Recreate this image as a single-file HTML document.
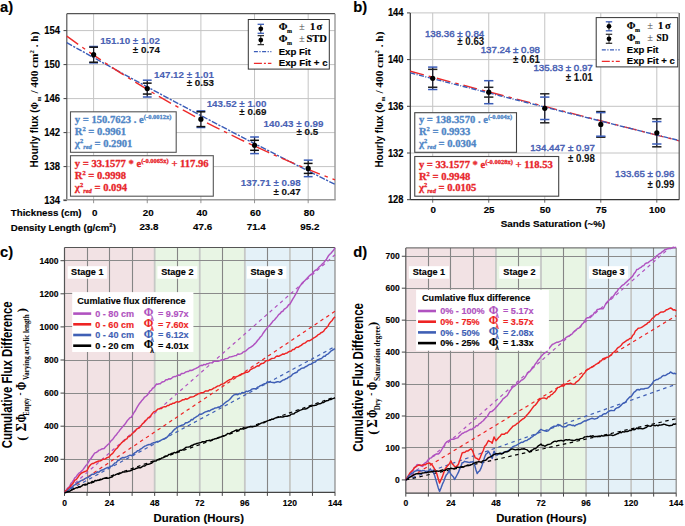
<!DOCTYPE html>
<html><head><meta charset="utf-8"><style>html,body{margin:0;padding:0;background:#fff;width:685px;height:526px;overflow:hidden}svg{display:block}</style></head>
<body><svg width="685" height="526" viewBox="0 0 685 526">
<text x="0.00" y="11.60" font-family="Liberation Sans" font-size="14.8" font-weight="bold" fill="#000" text-anchor="start"  stroke="#000" stroke-width="0.15">a)</text>
<text x="353.30" y="11.60" font-family="Liberation Sans" font-size="14.8" font-weight="bold" fill="#000" text-anchor="start"  stroke="#000" stroke-width="0.15">b)</text>
<text x="0.00" y="257.00" font-family="Liberation Sans" font-size="14.8" font-weight="bold" fill="#000" text-anchor="start"  stroke="#000" stroke-width="0.15">c)</text>
<text x="353.30" y="256.80" font-family="Liberation Sans" font-size="14.8" font-weight="bold" fill="#000" text-anchor="start"  stroke="#000" stroke-width="0.15">d)</text>
<line x1="93.62" y1="13.70" x2="93.62" y2="200.60" stroke="#c4c4c4" stroke-width="1" />
<line x1="147.26" y1="13.70" x2="147.26" y2="200.60" stroke="#c4c4c4" stroke-width="1" />
<line x1="200.90" y1="13.70" x2="200.90" y2="200.60" stroke="#c4c4c4" stroke-width="1" />
<line x1="254.54" y1="13.70" x2="254.54" y2="200.60" stroke="#c4c4c4" stroke-width="1" />
<line x1="308.18" y1="13.70" x2="308.18" y2="200.60" stroke="#c4c4c4" stroke-width="1" />
<line x1="66.80" y1="166.60" x2="335.00" y2="166.60" stroke="#c4c4c4" stroke-width="1" />
<line x1="66.80" y1="132.60" x2="335.00" y2="132.60" stroke="#c4c4c4" stroke-width="1" />
<line x1="66.80" y1="98.60" x2="335.00" y2="98.60" stroke="#c4c4c4" stroke-width="1" />
<line x1="66.80" y1="64.60" x2="335.00" y2="64.60" stroke="#c4c4c4" stroke-width="1" />
<line x1="66.80" y1="30.60" x2="335.00" y2="30.60" stroke="#c4c4c4" stroke-width="1" />
<line x1="66.80" y1="13.70" x2="335.00" y2="13.70" stroke="#555" stroke-width="1.2" />
<line x1="66.80" y1="13.70" x2="66.80" y2="199.70" stroke="#555" stroke-width="1.2" />
<line x1="335.00" y1="13.70" x2="335.00" y2="199.70" stroke="#999" stroke-width="1.4" />
<line x1="63.30" y1="199.70" x2="335.70" y2="199.70" stroke="#999" stroke-width="1.5" />
<line x1="63.50" y1="200.60" x2="66.80" y2="200.60" stroke="#404040" stroke-width="1" />
<text x="60.00" y="203.50" font-family="Liberation Sans" font-size="10" font-weight="bold" fill="#000" text-anchor="end" textLength="15.8" lengthAdjust="spacingAndGlyphs"  stroke="#000" stroke-width="0.15">134</text>
<line x1="63.50" y1="166.60" x2="66.80" y2="166.60" stroke="#404040" stroke-width="1" />
<text x="60.00" y="169.50" font-family="Liberation Sans" font-size="10" font-weight="bold" fill="#000" text-anchor="end" textLength="15.8" lengthAdjust="spacingAndGlyphs"  stroke="#000" stroke-width="0.15">138</text>
<line x1="63.50" y1="132.60" x2="66.80" y2="132.60" stroke="#404040" stroke-width="1" />
<text x="60.00" y="135.50" font-family="Liberation Sans" font-size="10" font-weight="bold" fill="#000" text-anchor="end" textLength="15.8" lengthAdjust="spacingAndGlyphs"  stroke="#000" stroke-width="0.15">142</text>
<line x1="63.50" y1="98.60" x2="66.80" y2="98.60" stroke="#404040" stroke-width="1" />
<text x="60.00" y="101.50" font-family="Liberation Sans" font-size="10" font-weight="bold" fill="#000" text-anchor="end" textLength="15.8" lengthAdjust="spacingAndGlyphs"  stroke="#000" stroke-width="0.15">146</text>
<line x1="63.50" y1="64.60" x2="66.80" y2="64.60" stroke="#404040" stroke-width="1" />
<text x="60.00" y="67.50" font-family="Liberation Sans" font-size="10" font-weight="bold" fill="#000" text-anchor="end" textLength="15.8" lengthAdjust="spacingAndGlyphs"  stroke="#000" stroke-width="0.15">150</text>
<line x1="63.50" y1="30.60" x2="66.80" y2="30.60" stroke="#404040" stroke-width="1" />
<text x="60.00" y="33.50" font-family="Liberation Sans" font-size="10" font-weight="bold" fill="#000" text-anchor="end" textLength="15.8" lengthAdjust="spacingAndGlyphs"  stroke="#000" stroke-width="0.15">154</text>
<line x1="93.62" y1="199.70" x2="93.62" y2="203.20" stroke="#888" stroke-width="0.9" />
<line x1="147.26" y1="199.70" x2="147.26" y2="203.20" stroke="#888" stroke-width="0.9" />
<line x1="200.90" y1="199.70" x2="200.90" y2="203.20" stroke="#888" stroke-width="0.9" />
<line x1="254.54" y1="199.70" x2="254.54" y2="203.20" stroke="#888" stroke-width="0.9" />
<line x1="308.18" y1="199.70" x2="308.18" y2="203.20" stroke="#888" stroke-width="0.9" />
<text x="10.80" y="215.80" font-family="Liberation Sans" font-size="9.7" font-weight="bold" fill="#000" text-anchor="start" textLength="70.7" lengthAdjust="spacingAndGlyphs"  stroke="#000" stroke-width="0.15">Thickness (cm)</text>
<text x="10.80" y="230.50" font-family="Liberation Sans" font-size="9.7" font-weight="bold" fill="#000" text-anchor="start"  stroke="#000" stroke-width="0.15">Density Length (g/cm<tspan font-size="6" dy="-4">2</tspan><tspan dy="4">)</tspan></text>
<text x="94.62" y="215.60" font-family="Liberation Sans" font-size="9.8" font-weight="bold" fill="#000" text-anchor="middle"  stroke="#000" stroke-width="0.15">0</text>
<text x="148.26" y="215.60" font-family="Liberation Sans" font-size="9.8" font-weight="bold" fill="#000" text-anchor="middle"  stroke="#000" stroke-width="0.15">20</text>
<text x="201.90" y="215.60" font-family="Liberation Sans" font-size="9.8" font-weight="bold" fill="#000" text-anchor="middle"  stroke="#000" stroke-width="0.15">40</text>
<text x="255.54" y="215.60" font-family="Liberation Sans" font-size="9.8" font-weight="bold" fill="#000" text-anchor="middle"  stroke="#000" stroke-width="0.15">60</text>
<text x="309.18" y="215.60" font-family="Liberation Sans" font-size="9.8" font-weight="bold" fill="#000" text-anchor="middle"  stroke="#000" stroke-width="0.15">80</text>
<text x="148.96" y="229.70" font-family="Liberation Sans" font-size="9.8" font-weight="bold" fill="#000" text-anchor="middle"  stroke="#000" stroke-width="0.15">23.8</text>
<text x="202.60" y="229.70" font-family="Liberation Sans" font-size="9.8" font-weight="bold" fill="#000" text-anchor="middle"  stroke="#000" stroke-width="0.15">47.6</text>
<text x="256.24" y="229.70" font-family="Liberation Sans" font-size="9.8" font-weight="bold" fill="#000" text-anchor="middle"  stroke="#000" stroke-width="0.15">71.4</text>
<text x="309.88" y="229.70" font-family="Liberation Sans" font-size="9.8" font-weight="bold" fill="#000" text-anchor="middle"  stroke="#000" stroke-width="0.15">95.2</text>
<text transform="translate(38.20,167.60) rotate(-90)" font-family="Liberation Sans" font-size="10" font-weight="bold" fill="#000" textLength="58.3" lengthAdjust="spacingAndGlyphs">Hourly flux (</text>
<text transform="translate(38.20,109.20) rotate(-90)" font-family="Liberation Serif" font-size="10.5" font-weight="bold" fill="#000" textLength="7.2" lengthAdjust="spacingAndGlyphs">Φ</text>
<text transform="translate(40.50,101.60) rotate(-90)" font-family="Liberation Serif" font-size="6.2" font-weight="bold" fill="#000" textLength="5" lengthAdjust="spacingAndGlyphs">m</text>
<text transform="translate(38.20,93.60) rotate(-90)" font-family="Liberation Serif" font-size="10.8" font-weight="bold" fill="#000" textLength="62" lengthAdjust="spacingAndGlyphs">/ 400 cm<tspan font-size="6.5" dy="-4">2</tspan><tspan dy="4"> . h)</tspan></text>
<polyline points="66.80,42.67 80.21,50.15 93.62,57.59 107.03,64.98 120.44,72.34 133.85,79.65 147.26,86.91 160.67,94.14 174.08,101.32 187.49,108.47 200.90,115.57 214.31,122.63 227.72,129.65 241.13,136.63 254.54,143.57 267.95,150.47 281.36,157.33 294.77,164.15 308.18,170.93 321.59,177.67 335.00,184.37" fill="none" stroke="#3a5cb8" stroke-width="1.4" stroke-linejoin="round" stroke-dasharray="6 1.4 2.2 1.4"/>
<polyline points="66.80,36.17 80.21,45.79 93.62,55.10 107.03,64.11 120.44,72.84 133.85,81.28 147.26,89.46 160.67,97.37 174.08,105.03 187.49,112.45 200.90,119.63 214.31,126.58 227.72,133.30 241.13,139.81 254.54,146.12 267.95,152.22 281.36,158.13 294.77,163.84 308.18,169.38 321.59,174.74 335.00,179.93" fill="none" stroke="#ee2a2a" stroke-width="1.4" stroke-linejoin="round" stroke-dasharray="14 5 3.5 5"/>
<line x1="93.62" y1="46.50" x2="93.62" y2="62.90" stroke="#1a1a2a" stroke-width="1.3" />
<line x1="89.22" y1="46.50" x2="98.02" y2="46.50" stroke="#3a5cb8" stroke-width="1.5" />
<line x1="89.22" y1="62.90" x2="98.02" y2="62.90" stroke="#3a5cb8" stroke-width="1.5" />
<line x1="89.22" y1="47.20" x2="98.02" y2="47.20" stroke="#111" stroke-width="1.5" />
<line x1="89.22" y1="62.20" x2="98.02" y2="62.20" stroke="#111" stroke-width="1.5" />
<circle cx="93.62" cy="54.70" r="2.6" fill="#000"/>
<line x1="147.26" y1="80.20" x2="147.26" y2="97.00" stroke="#1a1a2a" stroke-width="1.3" />
<line x1="142.86" y1="80.20" x2="151.66" y2="80.20" stroke="#3a5cb8" stroke-width="1.5" />
<line x1="142.86" y1="97.00" x2="151.66" y2="97.00" stroke="#3a5cb8" stroke-width="1.5" />
<line x1="142.86" y1="83.15" x2="151.66" y2="83.15" stroke="#111" stroke-width="1.5" />
<line x1="142.86" y1="94.05" x2="151.66" y2="94.05" stroke="#111" stroke-width="1.5" />
<circle cx="147.26" cy="88.60" r="2.6" fill="#000"/>
<line x1="200.90" y1="110.90" x2="200.90" y2="127.50" stroke="#1a1a2a" stroke-width="1.3" />
<line x1="196.50" y1="110.90" x2="205.30" y2="110.90" stroke="#3a5cb8" stroke-width="1.5" />
<line x1="196.50" y1="127.50" x2="205.30" y2="127.50" stroke="#3a5cb8" stroke-width="1.5" />
<line x1="196.50" y1="111.80" x2="205.30" y2="111.80" stroke="#111" stroke-width="1.5" />
<line x1="196.50" y1="126.60" x2="205.30" y2="126.60" stroke="#111" stroke-width="1.5" />
<circle cx="200.90" cy="119.20" r="2.6" fill="#000"/>
<line x1="254.54" y1="137.00" x2="254.54" y2="153.60" stroke="#1a1a2a" stroke-width="1.3" />
<line x1="250.14" y1="137.00" x2="258.94" y2="137.00" stroke="#3a5cb8" stroke-width="1.5" />
<line x1="250.14" y1="153.60" x2="258.94" y2="153.60" stroke="#3a5cb8" stroke-width="1.5" />
<line x1="250.14" y1="140.30" x2="258.94" y2="140.30" stroke="#111" stroke-width="1.5" />
<line x1="250.14" y1="150.30" x2="258.94" y2="150.30" stroke="#111" stroke-width="1.5" />
<circle cx="254.54" cy="145.30" r="2.6" fill="#000"/>
<line x1="308.18" y1="160.15" x2="308.18" y2="176.65" stroke="#1a1a2a" stroke-width="1.3" />
<line x1="303.78" y1="160.15" x2="312.58" y2="160.15" stroke="#3a5cb8" stroke-width="1.5" />
<line x1="303.78" y1="176.65" x2="312.58" y2="176.65" stroke="#3a5cb8" stroke-width="1.5" />
<line x1="303.78" y1="163.40" x2="312.58" y2="163.40" stroke="#111" stroke-width="1.5" />
<line x1="303.78" y1="173.40" x2="312.58" y2="173.40" stroke="#111" stroke-width="1.5" />
<circle cx="308.18" cy="168.40" r="2.6" fill="#000"/>
<text x="160.00" y="44.30" font-family="Liberation Sans" font-size="9.8" font-weight="bold" fill="#4a62b4" text-anchor="end"  stroke="#4a62b4" stroke-width="0.15">151.10 ± 1.02</text>
<text x="160.00" y="53.10" font-family="Liberation Sans" font-size="9.8" font-weight="bold" fill="#111" text-anchor="end"  stroke="#111" stroke-width="0.15">± 0.74</text>
<text x="213.90" y="78.10" font-family="Liberation Sans" font-size="9.8" font-weight="bold" fill="#4a62b4" text-anchor="end"  stroke="#4a62b4" stroke-width="0.15">147.12 ± 1.01</text>
<text x="213.90" y="86.10" font-family="Liberation Sans" font-size="9.8" font-weight="bold" fill="#111" text-anchor="end"  stroke="#111" stroke-width="0.15">± 0.53</text>
<text x="266.50" y="107.00" font-family="Liberation Sans" font-size="9.8" font-weight="bold" fill="#4a62b4" text-anchor="end"  stroke="#4a62b4" stroke-width="0.15">143.52 ± 1.00</text>
<text x="266.50" y="115.00" font-family="Liberation Sans" font-size="9.8" font-weight="bold" fill="#111" text-anchor="end"  stroke="#111" stroke-width="0.15">± 0.69</text>
<text x="323.40" y="126.60" font-family="Liberation Sans" font-size="9.8" font-weight="bold" fill="#4a62b4" text-anchor="end"  stroke="#4a62b4" stroke-width="0.15">140.43 ± 0.99</text>
<text x="318.10" y="135.30" font-family="Liberation Sans" font-size="9.8" font-weight="bold" fill="#111" text-anchor="end"  stroke="#111" stroke-width="0.15">± 0.5</text>
<text x="300.60" y="185.90" font-family="Liberation Sans" font-size="9.8" font-weight="bold" fill="#4a62b4" text-anchor="end"  stroke="#4a62b4" stroke-width="0.15">137.71 ± 0.98</text>
<text x="300.60" y="195.20" font-family="Liberation Sans" font-size="9.8" font-weight="bold" fill="#111" text-anchor="end"  stroke="#111" stroke-width="0.15">± 0.47</text>
<rect x="248.30" y="19.50" width="81.00" height="49.60" fill="#fff" stroke="#333" stroke-width="1" />
<line x1="260.80" y1="24.30" x2="260.80" y2="33.30" stroke="#222" stroke-width="1" />
<line x1="257.60" y1="24.30" x2="264.00" y2="24.30" stroke="#3a5cb8" stroke-width="1.3" />
<line x1="257.60" y1="33.30" x2="264.00" y2="33.30" stroke="#3a5cb8" stroke-width="1.3" />
<circle cx="260.8" cy="28.8" r="2.4" fill="#000"/>
<line x1="260.80" y1="35.60" x2="260.80" y2="44.60" stroke="#222" stroke-width="1" />
<line x1="257.60" y1="35.60" x2="264.00" y2="35.60" stroke="#333" stroke-width="1.3" />
<line x1="257.60" y1="44.60" x2="264.00" y2="44.60" stroke="#333" stroke-width="1.3" />
<circle cx="260.8" cy="40.1" r="2.4" fill="#000"/>
<text x="278.70" y="29.70" font-family="Liberation Serif" font-size="10.5" font-weight="bold" fill="#000" text-anchor="start"  stroke="#000" stroke-width="0.15">Φ</text>
<text x="286.90" y="32.70" font-family="Liberation Serif" font-size="6" font-weight="bold" fill="#000" text-anchor="start"  stroke="#000" stroke-width="0.15">m</text>
<text x="299.10" y="29.70" font-family="Liberation Serif" font-size="10.5" font-weight="normal" fill="#444" text-anchor="start" >±</text>
<text x="310.00" y="29.70" font-family="Liberation Serif" font-size="10.5" font-weight="bold" fill="#000" text-anchor="start"  stroke="#000" stroke-width="0.15">1</text>
<text x="316.60" y="29.70" font-family="Liberation Serif" font-size="10.5" font-weight="bold" fill="#000" text-anchor="start"  stroke="#000" stroke-width="0.15">σ</text>
<text x="278.70" y="41.80" font-family="Liberation Serif" font-size="10.5" font-weight="bold" fill="#000" text-anchor="start"  stroke="#000" stroke-width="0.15">Φ</text>
<text x="286.90" y="44.80" font-family="Liberation Serif" font-size="6" font-weight="bold" fill="#000" text-anchor="start"  stroke="#000" stroke-width="0.15">m</text>
<text x="299.10" y="41.80" font-family="Liberation Serif" font-size="10.5" font-weight="normal" fill="#444" text-anchor="start" >±</text>
<text x="306.40" y="41.80" font-family="Liberation Serif" font-size="10.5" font-weight="bold" fill="#000" text-anchor="start" textLength="20.5" lengthAdjust="spacingAndGlyphs"  stroke="#000" stroke-width="0.15">STD</text>
<line x1="253.90" y1="51.60" x2="271.40" y2="51.60" stroke="#3a5cb8" stroke-width="1.3" stroke-dasharray="4 1.5 1.2 1.5"/>
<line x1="253.90" y1="63.30" x2="271.40" y2="63.30" stroke="#ee2a2a" stroke-width="1.3" stroke-dasharray="8 2 2 2"/>
<text x="278.70" y="54.60" font-family="Liberation Sans" font-size="9.6" font-weight="bold" fill="#000" text-anchor="start"  stroke="#000" stroke-width="0.15">Exp Fit</text>
<text x="278.70" y="66.00" font-family="Liberation Sans" font-size="9.6" font-weight="bold" fill="#000" text-anchor="start" textLength="48.9" lengthAdjust="spacingAndGlyphs"  stroke="#000" stroke-width="0.15">Exp Fit + c</text>
<rect x="70.50" y="111.80" width="105.70" height="40.50" fill="#fff" stroke="#555" stroke-width="1.1" />
<rect x="70.50" y="155.70" width="142.80" height="40.50" fill="#fff" stroke="#555" stroke-width="1.1" />
<text x="74.8" y="123.4" font-family="Liberation Serif" font-size="10.6" font-weight="bold" fill="#4f86c6" stroke="#4f86c6" stroke-width="0.3">y = 150.7623 . e<tspan font-size="6.5" dy="-4">(-0.0012x)</tspan></text>
<text x="74.8" y="135.1" font-family="Liberation Serif" font-size="10.6" font-weight="bold" fill="#4f86c6" stroke="#4f86c6" stroke-width="0.3">R<tspan font-size="6.5" dy="-4">2</tspan><tspan dy="4"> = 0.9961</tspan></text>
<text x="74.8" y="146.8" font-family="Liberation Serif" font-size="10.6" font-weight="bold" fill="#4f86c6" stroke="#4f86c6" stroke-width="0.3"><tspan font-size="11">χ</tspan><tspan font-size="6.5" dy="-4">2</tspan><tspan font-size="6.5" dy="6" font-style="italic">red</tspan><tspan dy="-2"> = 0.2901</tspan></text>
<text x="74.8" y="167.1" font-family="Liberation Serif" font-size="10.6" font-weight="bold" fill="#e8262b" stroke="#e8262b" stroke-width="0.3">y = 33.1577 * e<tspan font-size="6.5" dy="-4">(-0.0065x)</tspan><tspan dy="4"> + 117.96</tspan></text>
<text x="74.8" y="178.79999999999998" font-family="Liberation Serif" font-size="10.6" font-weight="bold" fill="#e8262b" stroke="#e8262b" stroke-width="0.3">R<tspan font-size="6.5" dy="-4">2</tspan><tspan dy="4"> = 0.9998</tspan></text>
<text x="74.8" y="190.5" font-family="Liberation Serif" font-size="10.6" font-weight="bold" fill="#e8262b" stroke="#e8262b" stroke-width="0.3"><tspan font-size="11">χ</tspan><tspan font-size="6.5" dy="-4">2</tspan><tspan font-size="6.5" dy="6" font-style="italic">red</tspan><tspan dy="-2"> = 0.094</tspan></text>
<line x1="432.71" y1="12.90" x2="432.71" y2="199.70" stroke="#c4c4c4" stroke-width="1" />
<line x1="488.74" y1="12.90" x2="488.74" y2="199.70" stroke="#c4c4c4" stroke-width="1" />
<line x1="544.76" y1="12.90" x2="544.76" y2="199.70" stroke="#c4c4c4" stroke-width="1" />
<line x1="600.79" y1="12.90" x2="600.79" y2="199.70" stroke="#c4c4c4" stroke-width="1" />
<line x1="656.81" y1="12.90" x2="656.81" y2="199.70" stroke="#c4c4c4" stroke-width="1" />
<line x1="410.30" y1="153.00" x2="679.20" y2="153.00" stroke="#c4c4c4" stroke-width="1" />
<line x1="410.30" y1="106.30" x2="679.20" y2="106.30" stroke="#c4c4c4" stroke-width="1" />
<line x1="410.30" y1="59.60" x2="679.20" y2="59.60" stroke="#c4c4c4" stroke-width="1" />
<line x1="410.30" y1="12.90" x2="679.20" y2="12.90" stroke="#c4c4c4" stroke-width="1" />
<line x1="410.30" y1="12.90" x2="410.30" y2="199.70" stroke="#333" stroke-width="1.2" />
<line x1="679.20" y1="12.90" x2="679.20" y2="199.70" stroke="#555" stroke-width="1.2" />
<line x1="410.30" y1="199.70" x2="679.20" y2="199.70" stroke="#333" stroke-width="1.2" />
<line x1="407.00" y1="199.70" x2="410.30" y2="199.70" stroke="#404040" stroke-width="1" />
<text x="403.50" y="203.20" font-family="Liberation Sans" font-size="10" font-weight="bold" fill="#000" text-anchor="end" textLength="15.6" lengthAdjust="spacingAndGlyphs"  stroke="#000" stroke-width="0.15">128</text>
<line x1="407.00" y1="153.00" x2="410.30" y2="153.00" stroke="#404040" stroke-width="1" />
<text x="403.50" y="156.50" font-family="Liberation Sans" font-size="10" font-weight="bold" fill="#000" text-anchor="end" textLength="15.6" lengthAdjust="spacingAndGlyphs"  stroke="#000" stroke-width="0.15">132</text>
<line x1="407.00" y1="106.30" x2="410.30" y2="106.30" stroke="#404040" stroke-width="1" />
<text x="403.50" y="109.80" font-family="Liberation Sans" font-size="10" font-weight="bold" fill="#000" text-anchor="end" textLength="15.6" lengthAdjust="spacingAndGlyphs"  stroke="#000" stroke-width="0.15">136</text>
<line x1="407.00" y1="59.60" x2="410.30" y2="59.60" stroke="#404040" stroke-width="1" />
<text x="403.50" y="63.10" font-family="Liberation Sans" font-size="10" font-weight="bold" fill="#000" text-anchor="end" textLength="15.6" lengthAdjust="spacingAndGlyphs"  stroke="#000" stroke-width="0.15">140</text>
<line x1="407.00" y1="12.90" x2="410.30" y2="12.90" stroke="#404040" stroke-width="1" />
<text x="403.50" y="16.40" font-family="Liberation Sans" font-size="10" font-weight="bold" fill="#000" text-anchor="end" textLength="15.6" lengthAdjust="spacingAndGlyphs"  stroke="#000" stroke-width="0.15">144</text>
<line x1="432.71" y1="199.70" x2="432.71" y2="202.70" stroke="#404040" stroke-width="0.8" />
<text x="433.11" y="213.20" font-family="Liberation Sans" font-size="9.8" font-weight="bold" fill="#000" text-anchor="middle"  stroke="#000" stroke-width="0.15">0</text>
<line x1="488.74" y1="199.70" x2="488.74" y2="202.70" stroke="#404040" stroke-width="0.8" />
<text x="489.13" y="213.20" font-family="Liberation Sans" font-size="9.8" font-weight="bold" fill="#000" text-anchor="middle"  stroke="#000" stroke-width="0.15">25</text>
<line x1="544.76" y1="199.70" x2="544.76" y2="202.70" stroke="#404040" stroke-width="0.8" />
<text x="545.16" y="213.20" font-family="Liberation Sans" font-size="9.8" font-weight="bold" fill="#000" text-anchor="middle"  stroke="#000" stroke-width="0.15">50</text>
<line x1="600.79" y1="199.70" x2="600.79" y2="202.70" stroke="#404040" stroke-width="0.8" />
<text x="601.19" y="213.20" font-family="Liberation Sans" font-size="9.8" font-weight="bold" fill="#000" text-anchor="middle"  stroke="#000" stroke-width="0.15">75</text>
<line x1="656.81" y1="199.70" x2="656.81" y2="202.70" stroke="#404040" stroke-width="0.8" />
<text x="657.21" y="213.20" font-family="Liberation Sans" font-size="9.8" font-weight="bold" fill="#000" text-anchor="middle"  stroke="#000" stroke-width="0.15">100</text>
<text x="553.00" y="227.00" font-family="Liberation Sans" font-size="9.85" font-weight="bold" fill="#000" text-anchor="middle"  stroke="#000" stroke-width="0.15">Sands Saturation (~%)</text>
<text transform="translate(382.50,167.60) rotate(-90)" font-family="Liberation Sans" font-size="10" font-weight="bold" fill="#000" textLength="58.3" lengthAdjust="spacingAndGlyphs">Hourly flux (</text>
<text transform="translate(382.50,109.20) rotate(-90)" font-family="Liberation Serif" font-size="10.5" font-weight="bold" fill="#000" textLength="7.2" lengthAdjust="spacingAndGlyphs">Φ</text>
<text transform="translate(384.80,101.60) rotate(-90)" font-family="Liberation Serif" font-size="6.2" font-weight="bold" fill="#000" textLength="5" lengthAdjust="spacingAndGlyphs">m</text>
<text transform="translate(382.50,93.60) rotate(-90)" font-family="Liberation Serif" font-size="10.8" font-weight="bold" fill="#000" textLength="62" lengthAdjust="spacingAndGlyphs">/ 400 cm<tspan font-size="6.5" dy="-4">2</tspan><tspan dy="4"> . h)</tspan></text>
<polyline points="410.30,71.27 432.71,77.19 455.12,83.08 477.53,88.95 499.94,94.80 522.35,100.62 544.76,106.43 567.17,112.21 589.58,117.98 611.99,123.72 634.40,129.44 656.81,135.14 679.22,140.82" fill="none" stroke="#ee2a2a" stroke-width="1.4" stroke-linejoin="round" stroke-dasharray="14 5 3.5 5"/>
<polyline points="410.30,72.91 432.71,78.65 455.12,84.38 477.53,90.08 499.94,95.77 522.35,101.43 544.76,107.08 567.17,112.70 589.58,118.30 611.99,123.89 634.40,129.45 656.81,135.00 679.22,140.52" fill="none" stroke="#3a5cb8" stroke-width="1.4" stroke-linejoin="round" stroke-dasharray="5 1.5 1 1.5"/>
<line x1="432.71" y1="67.10" x2="432.71" y2="89.50" stroke="#1a1a2a" stroke-width="1.3" />
<line x1="428.06" y1="67.10" x2="437.36" y2="67.10" stroke="#3a5cb8" stroke-width="1.5" />
<line x1="428.06" y1="89.50" x2="437.36" y2="89.50" stroke="#3a5cb8" stroke-width="1.5" />
<line x1="428.06" y1="69.35" x2="437.36" y2="69.35" stroke="#222" stroke-width="1.5" />
<line x1="428.06" y1="87.25" x2="437.36" y2="87.25" stroke="#222" stroke-width="1.5" />
<circle cx="432.71" cy="78.30" r="2.6" fill="#000"/>
<line x1="488.74" y1="80.70" x2="488.74" y2="103.70" stroke="#1a1a2a" stroke-width="1.3" />
<line x1="484.09" y1="80.70" x2="493.38" y2="80.70" stroke="#3a5cb8" stroke-width="1.5" />
<line x1="484.09" y1="103.70" x2="493.38" y2="103.70" stroke="#3a5cb8" stroke-width="1.5" />
<line x1="484.09" y1="87.30" x2="493.38" y2="87.30" stroke="#222" stroke-width="1.5" />
<line x1="484.09" y1="97.10" x2="493.38" y2="97.10" stroke="#222" stroke-width="1.5" />
<circle cx="488.74" cy="92.20" r="2.6" fill="#000"/>
<line x1="544.76" y1="93.80" x2="544.76" y2="122.80" stroke="#1a1a2a" stroke-width="1.3" />
<line x1="540.11" y1="93.80" x2="549.41" y2="93.80" stroke="#222" stroke-width="1.5" />
<line x1="540.11" y1="122.80" x2="549.41" y2="122.80" stroke="#222" stroke-width="1.5" />
<line x1="540.11" y1="97.10" x2="549.41" y2="97.10" stroke="#3a5cb8" stroke-width="1.5" />
<line x1="540.11" y1="119.50" x2="549.41" y2="119.50" stroke="#3a5cb8" stroke-width="1.5" />
<circle cx="544.76" cy="108.30" r="2.6" fill="#000"/>
<line x1="600.79" y1="111.60" x2="600.79" y2="137.20" stroke="#1a1a2a" stroke-width="1.3" />
<line x1="596.14" y1="111.60" x2="605.44" y2="111.60" stroke="#222" stroke-width="1.5" />
<line x1="596.14" y1="137.20" x2="605.44" y2="137.20" stroke="#222" stroke-width="1.5" />
<line x1="596.14" y1="112.60" x2="605.44" y2="112.60" stroke="#3a5cb8" stroke-width="1.5" />
<line x1="596.14" y1="136.20" x2="605.44" y2="136.20" stroke="#3a5cb8" stroke-width="1.5" />
<circle cx="600.79" cy="124.40" r="2.6" fill="#000"/>
<line x1="656.81" y1="118.80" x2="656.81" y2="146.80" stroke="#1a1a2a" stroke-width="1.3" />
<line x1="652.16" y1="118.80" x2="661.46" y2="118.80" stroke="#222" stroke-width="1.5" />
<line x1="652.16" y1="146.80" x2="661.46" y2="146.80" stroke="#222" stroke-width="1.5" />
<line x1="652.16" y1="121.60" x2="661.46" y2="121.60" stroke="#3a5cb8" stroke-width="1.5" />
<line x1="652.16" y1="144.00" x2="661.46" y2="144.00" stroke="#3a5cb8" stroke-width="1.5" />
<circle cx="656.81" cy="132.80" r="2.6" fill="#000"/>
<text x="484.20" y="36.90" font-family="Liberation Sans" font-size="9.8" font-weight="normal" fill="#4a62b4" text-anchor="end" textLength="59.3" lengthAdjust="spacingAndGlyphs" stroke="#4a62b4" stroke-width="0.45">138.36 ± 0.84</text>
<text x="484.20" y="44.80" font-family="Liberation Sans" font-size="10" font-weight="bold" fill="#111" text-anchor="end" textLength="26.9" lengthAdjust="spacingAndGlyphs" stroke="#111" stroke-width="0.05">± 0.63</text>
<text x="540.00" y="53.30" font-family="Liberation Sans" font-size="9.8" font-weight="normal" fill="#4a62b4" text-anchor="end" textLength="59.3" lengthAdjust="spacingAndGlyphs" stroke="#4a62b4" stroke-width="0.45">137.24 ± 0.98</text>
<text x="540.00" y="62.70" font-family="Liberation Sans" font-size="10" font-weight="bold" fill="#111" text-anchor="end" textLength="26.9" lengthAdjust="spacingAndGlyphs" stroke="#111" stroke-width="0.05">± 0.61</text>
<text x="592.70" y="70.80" font-family="Liberation Sans" font-size="9.8" font-weight="normal" fill="#4a62b4" text-anchor="end" textLength="59.3" lengthAdjust="spacingAndGlyphs" stroke="#4a62b4" stroke-width="0.45">135.83 ± 0.97</text>
<text x="592.70" y="81.30" font-family="Liberation Sans" font-size="10" font-weight="bold" fill="#111" text-anchor="end" textLength="26.9" lengthAdjust="spacingAndGlyphs" stroke="#111" stroke-width="0.05">± 1.01</text>
<text x="594.90" y="151.00" font-family="Liberation Sans" font-size="9.8" font-weight="normal" fill="#4a62b4" text-anchor="end" textLength="64.7" lengthAdjust="spacingAndGlyphs" stroke="#4a62b4" stroke-width="0.45">134.447 ± 0.97</text>
<text x="594.90" y="162.10" font-family="Liberation Sans" font-size="10" font-weight="bold" fill="#111" text-anchor="end" textLength="26.9" lengthAdjust="spacingAndGlyphs" stroke="#111" stroke-width="0.05">± 0.98</text>
<text x="674.40" y="177.00" font-family="Liberation Sans" font-size="9.8" font-weight="normal" fill="#4a62b4" text-anchor="end" textLength="59.3" lengthAdjust="spacingAndGlyphs" stroke="#4a62b4" stroke-width="0.45">133.65 ± 0.96</text>
<text x="674.40" y="187.80" font-family="Liberation Sans" font-size="10" font-weight="bold" fill="#111" text-anchor="end" textLength="26.9" lengthAdjust="spacingAndGlyphs" stroke="#111" stroke-width="0.05">± 0.99</text>
<rect x="596.20" y="17.60" width="81.50" height="49.30" fill="#fff" stroke="#333" stroke-width="1" />
<line x1="609.00" y1="21.80" x2="609.00" y2="30.80" stroke="#222" stroke-width="1" />
<line x1="605.80" y1="21.80" x2="612.20" y2="21.80" stroke="#3a5cb8" stroke-width="1.3" />
<line x1="605.80" y1="30.80" x2="612.20" y2="30.80" stroke="#3a5cb8" stroke-width="1.3" />
<circle cx="609" cy="26.3" r="2.4" fill="#000"/>
<line x1="609.00" y1="34.30" x2="609.00" y2="43.30" stroke="#222" stroke-width="1" />
<line x1="605.80" y1="34.30" x2="612.20" y2="34.30" stroke="#333" stroke-width="1.3" />
<line x1="605.80" y1="43.30" x2="612.20" y2="43.30" stroke="#333" stroke-width="1.3" />
<circle cx="609" cy="38.8" r="2.4" fill="#000"/>
<text x="626.80" y="28.60" font-family="Liberation Serif" font-size="10.5" font-weight="bold" fill="#000" text-anchor="start"  stroke="#000" stroke-width="0.15">Φ</text>
<text x="635.00" y="31.60" font-family="Liberation Serif" font-size="6" font-weight="bold" fill="#000" text-anchor="start"  stroke="#000" stroke-width="0.15">m</text>
<text x="647.20" y="28.60" font-family="Liberation Serif" font-size="10.5" font-weight="normal" fill="#444" text-anchor="start" >±</text>
<text x="658.10" y="28.60" font-family="Liberation Serif" font-size="10.5" font-weight="bold" fill="#000" text-anchor="start"  stroke="#000" stroke-width="0.15">1</text>
<text x="664.90" y="28.60" font-family="Liberation Serif" font-size="10.5" font-weight="bold" fill="#000" text-anchor="start"  stroke="#000" stroke-width="0.15">σ</text>
<text x="626.80" y="40.60" font-family="Liberation Serif" font-size="10.5" font-weight="bold" fill="#000" text-anchor="start"  stroke="#000" stroke-width="0.15">Φ</text>
<text x="635.00" y="43.60" font-family="Liberation Serif" font-size="6" font-weight="bold" fill="#000" text-anchor="start"  stroke="#000" stroke-width="0.15">m</text>
<text x="647.20" y="40.60" font-family="Liberation Serif" font-size="10.5" font-weight="normal" fill="#444" text-anchor="start" >±</text>
<text x="656.60" y="40.60" font-family="Liberation Serif" font-size="10.5" font-weight="bold" fill="#000" text-anchor="start" textLength="12" lengthAdjust="spacingAndGlyphs"  stroke="#000" stroke-width="0.15">SD</text>
<line x1="601.80" y1="49.80" x2="619.80" y2="49.80" stroke="#3a5cb8" stroke-width="1.3" stroke-dasharray="4 1.5 1.2 1.5"/>
<line x1="601.80" y1="61.30" x2="619.80" y2="61.30" stroke="#ee2a2a" stroke-width="1.3" stroke-dasharray="8 2 2 2"/>
<text x="626.80" y="52.60" font-family="Liberation Sans" font-size="9.5" font-weight="bold" fill="#000" text-anchor="start"  stroke="#000" stroke-width="0.15">Exp Fit</text>
<text x="626.80" y="64.20" font-family="Liberation Sans" font-size="9.6" font-weight="bold" fill="#000" text-anchor="start" textLength="48.1" lengthAdjust="spacingAndGlyphs"  stroke="#000" stroke-width="0.15">Exp Fit + c</text>
<rect x="414.75" y="112.70" width="101.75" height="39.60" fill="#fff" stroke="#444" stroke-width="1.1" />
<rect x="414.75" y="156.50" width="143.95" height="39.70" fill="#fff" stroke="#444" stroke-width="1.1" />
<text x="418.9" y="123" font-family="Liberation Serif" font-size="10.6" font-weight="bold" fill="#4f86c6" stroke="#4f86c6" stroke-width="0.3">y = 138.3570 . e<tspan font-size="6.5" dy="-4">(-0.004x)</tspan></text>
<text x="418.9" y="135" font-family="Liberation Serif" font-size="10.6" font-weight="bold" fill="#4f86c6" stroke="#4f86c6" stroke-width="0.3">R<tspan font-size="6.5" dy="-4">2</tspan><tspan dy="4"> = 0.9933</tspan></text>
<text x="418.9" y="147" font-family="Liberation Serif" font-size="10.6" font-weight="bold" fill="#4f86c6" stroke="#4f86c6" stroke-width="0.3"><tspan font-size="11">χ</tspan><tspan font-size="6.5" dy="-4">2</tspan><tspan font-size="6.5" dy="6" font-style="italic">red</tspan><tspan dy="-2"> = 0.0304</tspan></text>
<text x="418.9" y="167.6" font-family="Liberation Serif" font-size="10.6" font-weight="bold" fill="#e8262b" stroke="#e8262b" stroke-width="0.3">y = 33.1577 * e<tspan font-size="6.5" dy="-4">(-0.0028x)</tspan><tspan dy="4"> + 118.53</tspan></text>
<text x="418.9" y="179.5" font-family="Liberation Serif" font-size="10.6" font-weight="bold" fill="#e8262b" stroke="#e8262b" stroke-width="0.3">R<tspan font-size="6.5" dy="-4">2</tspan><tspan dy="4"> = 0.9948</tspan></text>
<text x="418.9" y="191.4" font-family="Liberation Serif" font-size="10.6" font-weight="bold" fill="#e8262b" stroke="#e8262b" stroke-width="0.3"><tspan font-size="11">χ</tspan><tspan font-size="6.5" dy="-4">2</tspan><tspan font-size="6.5" dy="6" font-style="italic">red</tspan><tspan dy="-2"> = 0.0105</tspan></text>
<rect x="64.50" y="247.50" width="90.17" height="244.90" fill="#f2e2e4" stroke="none" stroke-width="1" />
<rect x="154.67" y="247.50" width="90.17" height="244.90" fill="#e8f5e4" stroke="none" stroke-width="1" />
<rect x="244.83" y="247.50" width="90.17" height="244.90" fill="#e4f1f8" stroke="none" stroke-width="1" />
<line x1="87.50" y1="247.50" x2="87.50" y2="492.40" stroke="#858585" stroke-width="1.1" />
<line x1="109.50" y1="247.50" x2="109.50" y2="492.40" stroke="#858585" stroke-width="1.1" />
<line x1="132.50" y1="247.50" x2="132.50" y2="492.40" stroke="#858585" stroke-width="1.1" />
<line x1="154.67" y1="247.50" x2="154.67" y2="492.40" stroke="#c6c8c6" stroke-width="1.8" />
<line x1="177.50" y1="247.50" x2="177.50" y2="492.40" stroke="#858585" stroke-width="1.1" />
<line x1="199.75" y1="247.50" x2="199.75" y2="492.40" stroke="#c6c8c6" stroke-width="1.8" />
<line x1="222.50" y1="247.50" x2="222.50" y2="492.40" stroke="#858585" stroke-width="1.1" />
<line x1="244.83" y1="247.50" x2="244.83" y2="492.40" stroke="#c6c8c6" stroke-width="1.8" />
<line x1="267.50" y1="247.50" x2="267.50" y2="492.40" stroke="#858585" stroke-width="1.1" />
<line x1="289.92" y1="247.50" x2="289.92" y2="492.40" stroke="#c6c8c6" stroke-width="1.8" />
<line x1="312.50" y1="247.50" x2="312.50" y2="492.40" stroke="#858585" stroke-width="1.1" />
<line x1="64.50" y1="459.50" x2="335.00" y2="459.50" stroke="#8a8a8a" stroke-width="1.1" />
<line x1="64.50" y1="426.50" x2="335.00" y2="426.50" stroke="#8a8a8a" stroke-width="1.1" />
<line x1="64.50" y1="393.50" x2="335.00" y2="393.50" stroke="#8a8a8a" stroke-width="1.1" />
<line x1="64.50" y1="360.50" x2="335.00" y2="360.50" stroke="#8a8a8a" stroke-width="1.1" />
<line x1="64.50" y1="326.50" x2="335.00" y2="326.50" stroke="#8a8a8a" stroke-width="1.1" />
<line x1="64.50" y1="293.50" x2="335.00" y2="293.50" stroke="#8a8a8a" stroke-width="1.1" />
<line x1="64.50" y1="260.50" x2="335.00" y2="260.50" stroke="#8a8a8a" stroke-width="1.1" />
<line x1="64.50" y1="247.50" x2="335.00" y2="247.50" stroke="#555" stroke-width="1" />
<line x1="335.00" y1="247.50" x2="335.00" y2="492.40" stroke="#888" stroke-width="1.2" />
<line x1="64.50" y1="247.50" x2="64.50" y2="492.40" stroke="#555" stroke-width="1.2" />
<line x1="64.50" y1="492.40" x2="335.00" y2="492.40" stroke="#444" stroke-width="1.2" />
<line x1="60.50" y1="459.30" x2="64.50" y2="459.30" stroke="#444" stroke-width="1" />
<text x="58.50" y="462.30" font-family="Liberation Sans" font-size="8.5" font-weight="bold" fill="#000" text-anchor="end"  stroke="#000" stroke-width="0.15">200</text>
<line x1="60.50" y1="426.20" x2="64.50" y2="426.20" stroke="#444" stroke-width="1" />
<text x="58.50" y="429.20" font-family="Liberation Sans" font-size="8.5" font-weight="bold" fill="#000" text-anchor="end"  stroke="#000" stroke-width="0.15">400</text>
<line x1="60.50" y1="393.10" x2="64.50" y2="393.10" stroke="#444" stroke-width="1" />
<text x="58.50" y="396.10" font-family="Liberation Sans" font-size="8.5" font-weight="bold" fill="#000" text-anchor="end"  stroke="#000" stroke-width="0.15">600</text>
<line x1="60.50" y1="360.00" x2="64.50" y2="360.00" stroke="#444" stroke-width="1" />
<text x="58.50" y="363.00" font-family="Liberation Sans" font-size="8.5" font-weight="bold" fill="#000" text-anchor="end"  stroke="#000" stroke-width="0.15">800</text>
<line x1="60.50" y1="326.90" x2="64.50" y2="326.90" stroke="#444" stroke-width="1" />
<text x="58.50" y="329.90" font-family="Liberation Sans" font-size="8.5" font-weight="bold" fill="#000" text-anchor="end"  stroke="#000" stroke-width="0.15">1000</text>
<line x1="60.50" y1="293.80" x2="64.50" y2="293.80" stroke="#444" stroke-width="1" />
<text x="58.50" y="296.80" font-family="Liberation Sans" font-size="8.5" font-weight="bold" fill="#000" text-anchor="end"  stroke="#000" stroke-width="0.15">1200</text>
<line x1="60.50" y1="260.70" x2="64.50" y2="260.70" stroke="#444" stroke-width="1" />
<text x="58.50" y="263.70" font-family="Liberation Sans" font-size="8.5" font-weight="bold" fill="#000" text-anchor="end"  stroke="#000" stroke-width="0.15">1400</text>
<line x1="64.50" y1="492.40" x2="64.50" y2="495.90" stroke="#444" stroke-width="1" />
<line x1="87.04" y1="492.40" x2="87.04" y2="495.90" stroke="#444" stroke-width="1" />
<line x1="109.58" y1="492.40" x2="109.58" y2="495.90" stroke="#444" stroke-width="1" />
<line x1="132.12" y1="492.40" x2="132.12" y2="495.90" stroke="#444" stroke-width="1" />
<line x1="154.67" y1="492.40" x2="154.67" y2="495.90" stroke="#444" stroke-width="1" />
<line x1="177.21" y1="492.40" x2="177.21" y2="495.90" stroke="#444" stroke-width="1" />
<line x1="199.75" y1="492.40" x2="199.75" y2="495.90" stroke="#444" stroke-width="1" />
<line x1="222.29" y1="492.40" x2="222.29" y2="495.90" stroke="#444" stroke-width="1" />
<line x1="244.83" y1="492.40" x2="244.83" y2="495.90" stroke="#444" stroke-width="1" />
<line x1="267.38" y1="492.40" x2="267.38" y2="495.90" stroke="#444" stroke-width="1" />
<line x1="289.92" y1="492.40" x2="289.92" y2="495.90" stroke="#444" stroke-width="1" />
<line x1="312.46" y1="492.40" x2="312.46" y2="495.90" stroke="#444" stroke-width="1" />
<line x1="335.00" y1="492.40" x2="335.00" y2="495.90" stroke="#444" stroke-width="1" />
<text x="64.50" y="506.00" font-family="Liberation Sans" font-size="8.5" font-weight="bold" fill="#000" text-anchor="middle"  stroke="#000" stroke-width="0.15">0</text>
<text x="109.58" y="506.00" font-family="Liberation Sans" font-size="8.5" font-weight="bold" fill="#000" text-anchor="middle"  stroke="#000" stroke-width="0.15">24</text>
<text x="154.67" y="506.00" font-family="Liberation Sans" font-size="8.5" font-weight="bold" fill="#000" text-anchor="middle"  stroke="#000" stroke-width="0.15">48</text>
<text x="199.75" y="506.00" font-family="Liberation Sans" font-size="8.5" font-weight="bold" fill="#000" text-anchor="middle"  stroke="#000" stroke-width="0.15">72</text>
<text x="244.83" y="506.00" font-family="Liberation Sans" font-size="8.5" font-weight="bold" fill="#000" text-anchor="middle"  stroke="#000" stroke-width="0.15">96</text>
<text x="289.92" y="506.00" font-family="Liberation Sans" font-size="8.5" font-weight="bold" fill="#000" text-anchor="middle"  stroke="#000" stroke-width="0.15">120</text>
<text x="335.00" y="506.00" font-family="Liberation Sans" font-size="8.5" font-weight="bold" fill="#000" text-anchor="middle"  stroke="#000" stroke-width="0.15">144</text>
<text x="198.75" y="522.40" font-family="Liberation Sans" font-size="11.4" font-weight="bold" fill="#000" text-anchor="middle"  stroke="#000" stroke-width="0.15">Duration (Hours)</text>
<rect x="67.70" y="266.20" width="39.20" height="12.50" fill="#fff" stroke="none" stroke-width="1" />
<text x="87.30" y="275.00" font-family="Liberation Sans" font-size="9.1" font-weight="bold" fill="#000" text-anchor="middle"  stroke="#000" stroke-width="0.15">Stage 1</text>
<rect x="157.40" y="266.20" width="39.90" height="12.50" fill="#fff" stroke="none" stroke-width="1" />
<text x="177.35" y="275.00" font-family="Liberation Sans" font-size="9.1" font-weight="bold" fill="#000" text-anchor="middle"  stroke="#000" stroke-width="0.15">Stage 2</text>
<rect x="247.00" y="266.20" width="39.40" height="12.50" fill="#fff" stroke="none" stroke-width="1" />
<text x="266.70" y="275.00" font-family="Liberation Sans" font-size="9.1" font-weight="bold" fill="#000" text-anchor="middle"  stroke="#000" stroke-width="0.15">Stage 3</text>
<line x1="64.50" y1="492.40" x2="335.00" y2="254.79" stroke="#b052c0" stroke-width="1.2" stroke-dasharray="3.5 3.5"/>
<line x1="64.50" y1="492.40" x2="335.00" y2="311.28" stroke="#ee2424" stroke-width="1.2" stroke-dasharray="3.5 3.5"/>
<line x1="64.50" y1="492.40" x2="335.00" y2="346.55" stroke="#3f5fb5" stroke-width="1.2" stroke-dasharray="3.5 3.5"/>
<line x1="64.50" y1="492.40" x2="335.00" y2="396.83" stroke="#000" stroke-width="1.2" stroke-dasharray="3.5 3.5"/>
<polyline points="64.50,492.40 65.77,491.01 67.04,488.80 68.30,487.60 69.57,486.50 70.89,483.60 72.20,482.14 73.52,480.10 74.83,477.84 76.19,476.83 77.56,474.65 78.92,473.16 80.28,472.36 81.63,470.94 82.98,469.70 84.34,467.75 85.69,465.84 87.04,464.38 88.36,462.34 89.67,459.92 90.99,458.51 92.30,456.49 93.62,454.53 94.93,452.90 96.25,452.45 97.56,451.63 98.88,450.29 100.19,449.92 101.51,449.05 102.82,448.80 104.14,448.56 105.40,447.00 106.67,445.81 107.94,444.54 109.21,443.44 110.62,441.29 112.03,439.89 113.43,438.47 114.84,436.32 116.16,435.07 117.47,433.11 118.79,431.61 120.10,429.64 121.56,428.08 123.01,426.36 124.47,424.81 125.93,422.75 127.28,420.63 128.63,419.14 129.98,417.61 131.34,417.31 132.69,414.88 134.00,412.48 135.32,410.79 136.63,408.09 137.95,405.85 139.26,403.84 140.58,402.27 141.92,400.39 143.27,398.99 144.62,397.01 145.96,396.26 147.31,395.13 148.66,393.24 149.97,391.16 151.29,390.27 152.60,388.23 153.92,387.57 155.23,385.73 156.55,384.00 157.80,384.32 159.05,383.66 160.30,383.71 161.71,382.29 163.12,381.78 164.53,381.33 165.94,379.76 167.35,379.82 168.76,378.74 170.16,378.99 171.57,378.34 172.98,377.04 174.39,376.59 175.80,376.52 177.21,375.52 178.62,375.06 180.03,375.24 181.43,373.59 182.84,373.59 184.25,373.10 185.66,372.00 187.07,371.57 188.48,371.46 189.89,370.31 191.30,370.53 192.71,370.05 194.11,369.17 195.52,368.56 196.93,367.82 198.34,367.14 199.75,365.95 201.16,365.28 202.57,365.54 203.98,364.40 205.39,364.89 206.79,363.73 208.20,363.84 209.61,362.85 211.02,362.87 212.43,362.77 213.84,361.35 215.25,361.29 216.66,361.19 218.07,361.39 219.47,360.92 220.88,360.27 222.29,359.61 223.70,359.77 225.11,358.80 226.52,358.63 227.93,358.31 229.34,357.07 230.74,356.86 232.15,356.55 233.56,356.16 234.97,355.65 236.38,355.42 237.79,353.94 239.20,354.30 240.61,353.87 242.02,353.28 243.42,351.86 244.83,351.52 246.24,350.56 247.65,349.23 249.06,347.99 250.47,347.41 251.88,346.36 253.29,345.32 254.70,343.87 256.10,342.47 257.51,340.54 258.92,339.02 260.33,337.04 261.74,335.74 263.15,333.22 264.56,331.24 265.97,329.41 267.38,327.60 268.78,326.21 270.19,324.82 271.60,323.04 273.01,321.01 274.42,320.01 275.83,318.32 277.24,316.62 278.65,314.58 280.05,313.72 281.46,311.71 282.87,311.25 284.28,309.12 285.69,308.27 287.10,307.20 288.51,305.00 289.92,304.18 291.33,301.59 292.73,299.04 294.14,296.83 295.55,294.34 296.96,291.88 298.37,288.91 299.78,286.41 301.19,284.52 302.60,282.54 304.01,281.42 305.41,279.95 306.82,278.54 308.23,276.99 309.64,275.58 311.05,274.43 312.46,273.57 313.87,271.53 315.28,270.27 316.68,269.81 318.09,268.12 319.50,266.58 320.91,265.49 322.32,263.85 323.73,262.69 325.14,260.72 326.55,259.18 327.96,256.54 329.36,254.66 330.77,253.52 332.18,251.82 333.59,250.18 335.00,247.96" fill="none" stroke="#b052c0" stroke-width="1.45" stroke-linejoin="round" />
<polyline points="64.50,492.40 65.77,490.70 67.04,490.25 68.30,488.29 69.57,487.51 70.89,485.37 72.20,484.31 73.52,482.48 74.83,480.12 76.18,479.61 77.54,477.88 78.89,475.77 80.24,474.34 81.59,472.97 82.96,472.34 84.32,471.79 85.68,471.28 87.04,470.58 88.29,467.99 89.55,465.95 90.80,464.50 92.16,463.59 93.52,463.42 94.88,462.60 96.25,462.02 97.56,461.51 98.88,461.04 100.19,460.92 101.51,460.25 102.82,459.32 104.14,459.32 105.45,458.86 106.77,457.75 107.99,457.34 109.21,456.94 110.62,454.98 112.03,453.95 113.43,452.45 114.84,450.40 116.16,448.81 117.47,447.87 118.79,445.94 120.10,444.58 121.46,442.82 122.83,441.69 124.19,440.98 125.55,439.34 126.87,438.84 128.18,436.54 129.50,436.41 130.81,435.18 132.12,433.80 133.60,432.49 135.07,431.22 136.54,429.24 138.01,428.33 139.48,427.72 140.95,425.88 142.36,423.86 143.77,422.72 145.18,420.73 146.59,419.90 148.00,417.95 149.41,417.18 150.91,415.46 152.41,413.36 153.73,411.87 155.04,411.30 156.36,410.65 157.55,409.30 158.74,408.92 159.93,408.52 161.43,408.45 162.93,407.12 164.43,406.66 165.94,406.75 167.35,405.53 168.76,405.53 170.16,404.21 171.57,404.17 172.98,403.20 174.39,403.17 175.80,402.18 177.21,401.57 178.62,402.08 180.03,401.40 181.43,400.69 182.84,399.68 184.25,399.74 185.66,398.71 187.07,399.23 188.48,398.39 189.89,397.31 191.30,397.04 192.71,396.88 194.11,396.34 195.52,395.19 196.93,394.72 198.34,393.76 199.75,393.55 201.16,392.74 202.57,392.84 203.98,392.05 205.39,391.00 206.79,390.85 208.20,390.97 209.61,389.66 211.02,389.74 212.43,389.17 213.84,387.96 215.25,387.58 216.66,386.68 218.07,385.87 219.47,385.73 220.88,384.55 222.29,384.09 223.70,383.60 225.11,382.70 226.52,381.54 227.93,380.59 229.34,379.83 230.74,379.54 232.15,378.71 233.56,376.73 234.97,376.96 236.38,376.72 237.79,376.15 239.20,375.51 240.61,375.05 242.02,374.03 243.42,373.50 244.83,372.76 246.24,372.33 247.65,372.26 249.06,371.34 250.47,369.53 251.88,369.00 253.29,368.03 254.70,367.78 256.10,366.58 257.51,365.82 258.92,365.92 260.33,364.23 261.74,363.51 263.15,363.39 264.56,362.35 265.97,360.84 267.38,360.58 268.78,360.44 270.19,359.40 271.60,358.53 273.01,358.38 274.42,358.14 275.83,356.63 277.24,356.00 278.65,356.33 280.05,355.53 281.46,354.90 282.87,353.93 284.28,354.18 285.69,353.24 287.10,352.94 288.51,351.90 289.92,351.26 291.33,350.96 292.73,349.38 294.14,349.50 295.55,347.96 296.96,347.21 298.37,347.18 299.78,346.15 301.19,345.36 302.60,344.13 304.01,343.25 305.41,342.83 306.82,341.42 308.23,340.67 309.64,340.69 311.05,339.84 312.46,338.98 313.87,337.79 315.28,337.05 316.68,336.16 318.09,334.69 319.50,334.18 320.91,332.70 322.32,332.25 323.73,331.20 325.14,328.96 326.55,327.83 327.96,326.12 329.36,323.53 330.77,321.86 332.18,320.44 333.59,318.14 335.00,316.64" fill="none" stroke="#ee2424" stroke-width="1.45" stroke-linejoin="round" />
<polyline points="64.50,492.40 65.77,492.24 67.04,491.33 68.30,490.22 69.57,489.44 70.89,487.65 72.20,487.56 73.52,485.43 74.83,484.93 76.18,483.80 77.54,482.44 78.89,482.06 80.24,481.06 81.59,480.34 82.96,479.86 84.32,479.16 85.68,478.24 87.04,477.68 88.36,477.20 89.67,476.47 90.99,475.11 92.30,474.16 93.62,474.37 94.93,473.43 96.25,472.80 97.56,471.83 98.88,472.21 100.19,470.95 101.51,470.24 103.05,469.78 104.59,468.92 106.13,468.17 107.67,467.49 109.21,467.37 110.62,466.17 112.03,466.00 113.43,464.64 114.84,462.90 116.16,462.83 117.47,460.81 118.79,460.38 120.10,459.18 121.46,458.06 122.83,457.49 124.19,457.72 125.55,457.12 127.05,456.64 128.56,455.84 130.06,455.13 131.56,455.69 133.04,454.37 134.52,452.89 136.00,452.29 137.48,450.71 138.96,450.44 140.44,449.07 141.92,448.32 143.40,447.03 144.80,446.19 146.21,445.60 147.62,444.95 149.03,444.57 150.44,444.60 151.85,443.37 153.26,442.80 154.67,442.78 156.08,442.00 157.48,441.44 158.89,441.46 160.30,440.74 161.71,439.93 163.12,439.22 164.53,438.95 165.94,438.12 167.35,436.91 168.76,435.32 170.16,433.56 171.57,432.90 172.98,430.99 174.39,429.46 175.80,428.55 177.21,427.20 178.62,426.50 180.03,425.98 181.43,425.28 182.84,425.03 184.25,424.31 185.66,422.75 187.07,422.77 188.48,422.02 189.89,421.35 191.30,419.54 192.71,419.71 194.11,418.08 195.52,417.38 196.93,416.28 198.34,415.52 199.75,414.10 201.16,414.24 202.57,413.54 203.98,412.58 205.39,411.84 206.79,411.50 208.20,410.82 209.61,411.01 211.02,409.84 212.43,409.29 213.84,408.72 215.25,407.98 216.66,407.85 218.07,407.03 219.47,407.18 220.88,406.02 222.29,405.38 223.70,403.99 225.11,402.76 226.52,401.68 227.93,400.91 229.34,399.77 230.74,398.18 232.15,396.51 233.56,395.16 234.97,394.58 236.38,394.20 237.79,394.81 239.20,393.48 240.61,393.92 242.02,392.56 243.42,392.79 244.83,392.40 246.24,391.17 247.65,391.68 249.06,390.77 250.47,390.35 251.88,389.10 253.29,388.79 254.70,388.63 256.10,388.73 257.51,387.17 258.92,386.79 260.33,385.63 261.74,385.20 263.15,384.36 264.56,383.66 265.97,383.54 267.38,381.76 268.78,382.24 270.19,381.92 271.60,382.39 273.01,382.43 274.42,382.76 275.83,382.18 277.24,381.78 278.65,381.84 280.05,382.18 281.46,381.06 282.87,380.17 284.28,379.81 285.69,378.83 287.10,378.57 288.51,377.12 289.92,376.71 291.33,375.86 292.73,374.07 294.14,373.44 295.55,372.73 296.96,372.23 298.37,370.20 299.78,369.80 301.19,368.49 302.60,368.08 304.01,367.91 305.41,366.70 306.82,366.27 308.23,365.16 309.64,364.35 311.05,364.17 312.46,363.11 313.87,362.33 315.28,362.15 316.68,360.33 318.09,359.65 319.50,359.08 320.91,358.81 322.32,357.78 323.73,356.29 325.14,356.17 326.55,354.58 327.96,354.08 329.36,352.65 330.77,351.23 332.18,350.45 333.59,349.37 335.00,348.75" fill="none" stroke="#3f5fb5" stroke-width="1.45" stroke-linejoin="round" />
<polyline points="64.50,492.40 65.77,492.73 67.04,491.93 68.30,491.56 69.57,491.35 70.89,490.47 72.20,489.72 73.52,488.70 74.83,488.43 76.18,487.84 77.54,487.75 78.89,486.66 80.24,486.73 81.59,486.12 82.96,484.91 84.32,484.54 85.68,484.20 87.04,484.44 88.36,483.05 89.67,483.19 90.99,482.63 92.30,481.37 93.62,481.91 94.93,480.57 96.25,480.83 97.56,480.19 98.88,480.25 100.19,479.28 101.51,479.62 103.05,478.58 104.59,478.38 106.13,478.27 107.67,478.17 109.21,477.96 110.62,477.34 112.03,477.06 113.43,475.42 114.84,475.08 116.16,474.33 117.47,473.84 118.79,474.19 120.10,473.39 121.46,472.86 122.83,471.83 124.19,472.14 125.55,471.89 127.05,471.53 128.56,471.07 130.06,470.95 131.56,470.28 133.04,469.37 134.52,469.37 136.00,468.47 137.48,467.99 138.96,467.60 140.44,467.81 141.92,466.80 143.40,465.93 144.80,466.04 146.21,464.78 147.62,464.26 149.03,464.19 150.44,463.57 151.85,462.97 153.26,461.68 154.67,460.98 156.08,461.07 157.48,459.72 158.89,459.78 160.30,459.17 161.71,458.02 163.12,457.73 164.53,456.50 165.94,455.95 167.35,456.00 168.76,454.58 170.16,454.35 171.57,453.45 172.98,453.30 174.39,452.38 175.80,452.91 177.21,451.74 178.62,451.16 180.03,450.30 181.43,450.30 182.84,449.63 184.25,448.96 185.66,447.47 187.07,447.15 188.48,446.96 189.89,446.63 191.30,445.55 192.71,445.33 194.11,444.27 195.52,443.98 196.93,443.47 198.34,443.14 199.75,442.79 201.16,442.38 202.57,441.77 203.98,441.77 205.39,441.69 206.79,440.61 208.20,440.61 209.61,440.21 211.02,440.56 212.43,439.47 213.84,439.28 215.25,438.66 216.66,438.51 218.07,437.61 219.47,437.22 220.88,437.09 222.29,436.21 223.70,435.79 225.11,435.42 226.52,434.56 227.93,433.39 229.34,433.84 230.74,432.79 232.15,431.92 233.56,431.37 234.97,430.57 236.38,429.97 237.79,430.24 239.20,429.95 240.61,428.72 242.02,429.08 243.42,427.69 244.83,427.91 246.24,428.00 247.65,427.44 249.06,426.87 250.47,426.31 251.88,426.93 253.29,426.54 254.70,426.18 256.10,425.95 257.51,425.37 258.92,424.35 260.33,423.59 261.74,422.89 263.15,422.82 264.56,422.49 265.97,421.55 267.38,420.82 268.78,420.39 270.19,420.09 271.60,419.29 273.01,419.34 274.42,418.39 275.83,417.93 277.24,417.49 278.65,417.37 280.05,416.81 281.46,416.95 282.87,416.94 284.28,416.54 285.69,416.17 287.10,416.23 288.51,415.77 289.92,415.45 291.33,414.10 292.73,413.94 294.14,413.84 295.55,412.37 296.96,411.99 298.37,411.13 299.78,410.26 301.19,409.82 302.60,409.33 304.01,408.91 305.41,408.94 306.82,408.53 308.23,407.55 309.64,406.60 311.05,406.40 312.46,405.54 313.87,405.65 315.28,405.20 316.68,404.93 318.09,404.01 319.50,403.75 320.91,403.47 322.32,402.60 323.73,402.43 325.14,401.38 326.55,400.78 327.96,400.64 329.36,399.60 330.77,399.51 332.18,398.92 333.59,398.39 335.00,397.73" fill="none" stroke="#000" stroke-width="1.45" stroke-linejoin="round" />
<rect x="72.20" y="292.10" width="121.20" height="59.90" fill="#fff" stroke="none" stroke-width="1" />
<text x="77.30" y="304.00" font-family="Liberation Sans" font-size="9.1" font-weight="bold" fill="#000" text-anchor="start" textLength="108.3" lengthAdjust="spacingAndGlyphs"  stroke="#000" stroke-width="0.15">Cumlative flux difference</text>
<line x1="73.20" y1="313.60" x2="91.20" y2="313.60" stroke="#b052c0" stroke-width="2.6" />
<text x="95.20" y="316.80" font-family="Liberation Sans" font-size="9.1" font-weight="bold" fill="#b052c0" text-anchor="start"  stroke="#b052c0" stroke-width="0.15">0 - 80 cm</text>
<text x="143.70" y="316.20" font-family="Liberation Serif" font-size="11.5" font-weight="bold" fill="#b052c0" text-anchor="start"  stroke="#b052c0" stroke-width="0.15">Φ</text>
<text x="150.30" y="320.60" font-family="Liberation Sans" font-size="6.5" font-weight="bold" fill="#b052c0" text-anchor="start"  stroke="#b052c0" stroke-width="0.15">λ</text>
<text x="158.00" y="316.80" font-family="Liberation Sans" font-size="9.1" font-weight="bold" fill="#b052c0" text-anchor="start"  stroke="#b052c0" stroke-width="0.15">= 9.97x</text>
<line x1="73.20" y1="324.30" x2="91.20" y2="324.30" stroke="#ee2424" stroke-width="2.6" />
<text x="95.20" y="327.50" font-family="Liberation Sans" font-size="9.1" font-weight="bold" fill="#ee2424" text-anchor="start"  stroke="#ee2424" stroke-width="0.15">0 - 60 cm</text>
<text x="143.70" y="326.90" font-family="Liberation Serif" font-size="11.5" font-weight="bold" fill="#ee2424" text-anchor="start"  stroke="#ee2424" stroke-width="0.15">Φ</text>
<text x="150.30" y="331.30" font-family="Liberation Sans" font-size="6.5" font-weight="bold" fill="#ee2424" text-anchor="start"  stroke="#ee2424" stroke-width="0.15">λ</text>
<text x="158.00" y="327.50" font-family="Liberation Sans" font-size="9.1" font-weight="bold" fill="#ee2424" text-anchor="start"  stroke="#ee2424" stroke-width="0.15">= 7.60x</text>
<line x1="73.20" y1="335.00" x2="91.20" y2="335.00" stroke="#3f5fb5" stroke-width="2.6" />
<text x="95.20" y="338.20" font-family="Liberation Sans" font-size="9.1" font-weight="bold" fill="#3f5fb5" text-anchor="start"  stroke="#3f5fb5" stroke-width="0.15">0 - 40 cm</text>
<text x="143.70" y="337.60" font-family="Liberation Serif" font-size="11.5" font-weight="bold" fill="#3f5fb5" text-anchor="start"  stroke="#3f5fb5" stroke-width="0.15">Φ</text>
<text x="150.30" y="342.00" font-family="Liberation Sans" font-size="6.5" font-weight="bold" fill="#3f5fb5" text-anchor="start"  stroke="#3f5fb5" stroke-width="0.15">λ</text>
<text x="158.00" y="338.20" font-family="Liberation Sans" font-size="9.1" font-weight="bold" fill="#3f5fb5" text-anchor="start"  stroke="#3f5fb5" stroke-width="0.15">= 6.12x</text>
<line x1="73.20" y1="345.70" x2="91.20" y2="345.70" stroke="#000" stroke-width="2.6" />
<text x="95.20" y="348.90" font-family="Liberation Sans" font-size="9.1" font-weight="bold" fill="#000" text-anchor="start"  stroke="#000" stroke-width="0.15">0 - 20 cm</text>
<text x="143.70" y="348.30" font-family="Liberation Serif" font-size="11.5" font-weight="bold" fill="#000" text-anchor="start"  stroke="#000" stroke-width="0.15">Φ</text>
<text x="150.30" y="352.70" font-family="Liberation Sans" font-size="6.5" font-weight="bold" fill="#000" text-anchor="start"  stroke="#000" stroke-width="0.15">λ</text>
<text x="158.00" y="348.90" font-family="Liberation Sans" font-size="9.1" font-weight="bold" fill="#000" text-anchor="start"  stroke="#000" stroke-width="0.15">= 4.01x</text>
<text transform="translate(12.20,448.20) rotate(-90)" font-family="Liberation Sans" font-size="13.8" font-weight="bold" fill="#000" textLength="146.89999999999998" lengthAdjust="spacingAndGlyphs">Cumulative Flux Difference</text>
<text transform="translate(25.80,440.80) rotate(-90)" font-family="Liberation Serif" font-size="13.5" font-weight="bold" fill="#000">(</text>
<text transform="translate(25.80,431.50) rotate(-90)" font-family="Liberation Serif" font-size="13.8" font-weight="bold" fill="#000" textLength="8.6" lengthAdjust="spacingAndGlyphs">Σ</text>
<text transform="translate(25.80,422.40) rotate(-90)" font-family="Liberation Serif" font-size="13.8" font-weight="bold" fill="#000" textLength="8.5" lengthAdjust="spacingAndGlyphs">Φ</text>
<text transform="translate(28.60,415.60) rotate(-90)" font-family="Liberation Serif" font-size="7.4" font-weight="bold" fill="#000" textLength="17.8" lengthAdjust="spacingAndGlyphs">Empty</text>
<text transform="translate(23.20,395.60) rotate(-90)" font-family="Liberation Serif" font-size="11" font-weight="bold" fill="#000" textLength="3" lengthAdjust="spacingAndGlyphs">-</text>
<text transform="translate(25.80,390.20) rotate(-90)" font-family="Liberation Serif" font-size="13.8" font-weight="bold" fill="#000" textLength="8.5" lengthAdjust="spacingAndGlyphs">Φ</text>
<text transform="translate(28.60,380.00) rotate(-90)" font-family="Liberation Serif" font-size="7.4" font-weight="bold" fill="#000" textLength="65.5" lengthAdjust="spacingAndGlyphs">Varying acrylic length</text>
<text transform="translate(25.80,312.50) rotate(-90)" font-family="Liberation Serif" font-size="13.5" font-weight="bold" fill="#000">)</text>
<rect x="405.80" y="247.90" width="90.13" height="245.20" fill="#f2e2e4" stroke="none" stroke-width="1" />
<rect x="495.93" y="247.90" width="90.13" height="245.20" fill="#e8f5e4" stroke="none" stroke-width="1" />
<rect x="586.07" y="247.90" width="90.13" height="245.20" fill="#e4f1f8" stroke="none" stroke-width="1" />
<line x1="428.50" y1="247.90" x2="428.50" y2="493.10" stroke="#858585" stroke-width="1.1" />
<line x1="450.50" y1="247.90" x2="450.50" y2="493.10" stroke="#858585" stroke-width="1.1" />
<line x1="473.50" y1="247.90" x2="473.50" y2="493.10" stroke="#858585" stroke-width="1.1" />
<line x1="495.93" y1="247.90" x2="495.93" y2="493.10" stroke="#c6c8c6" stroke-width="1.8" />
<line x1="518.50" y1="247.90" x2="518.50" y2="493.10" stroke="#858585" stroke-width="1.1" />
<line x1="541.00" y1="247.90" x2="541.00" y2="493.10" stroke="#c6c8c6" stroke-width="1.8" />
<line x1="563.50" y1="247.90" x2="563.50" y2="493.10" stroke="#858585" stroke-width="1.1" />
<line x1="586.07" y1="247.90" x2="586.07" y2="493.10" stroke="#c6c8c6" stroke-width="1.8" />
<line x1="608.50" y1="247.90" x2="608.50" y2="493.10" stroke="#858585" stroke-width="1.1" />
<line x1="631.13" y1="247.90" x2="631.13" y2="493.10" stroke="#c6c8c6" stroke-width="1.8" />
<line x1="653.50" y1="247.90" x2="653.50" y2="493.10" stroke="#858585" stroke-width="1.1" />
<line x1="405.80" y1="479.50" x2="676.20" y2="479.50" stroke="#8a8a8a" stroke-width="1.1" />
<line x1="405.80" y1="447.50" x2="676.20" y2="447.50" stroke="#8a8a8a" stroke-width="1.1" />
<line x1="405.80" y1="416.50" x2="676.20" y2="416.50" stroke="#8a8a8a" stroke-width="1.1" />
<line x1="405.80" y1="384.50" x2="676.20" y2="384.50" stroke="#8a8a8a" stroke-width="1.1" />
<line x1="405.80" y1="352.50" x2="676.20" y2="352.50" stroke="#8a8a8a" stroke-width="1.1" />
<line x1="405.80" y1="320.50" x2="676.20" y2="320.50" stroke="#8a8a8a" stroke-width="1.1" />
<line x1="405.80" y1="288.50" x2="676.20" y2="288.50" stroke="#8a8a8a" stroke-width="1.1" />
<line x1="405.80" y1="256.50" x2="676.20" y2="256.50" stroke="#8a8a8a" stroke-width="1.1" />
<line x1="405.80" y1="247.90" x2="676.20" y2="247.90" stroke="#555" stroke-width="1" />
<line x1="676.20" y1="247.90" x2="676.20" y2="493.10" stroke="#888" stroke-width="1.2" />
<line x1="405.80" y1="247.90" x2="405.80" y2="493.10" stroke="#555" stroke-width="1.2" />
<line x1="405.80" y1="493.10" x2="676.20" y2="493.10" stroke="#444" stroke-width="1.2" />
<line x1="401.80" y1="479.90" x2="405.80" y2="479.90" stroke="#444" stroke-width="1" />
<text x="399.80" y="482.90" font-family="Liberation Sans" font-size="8.5" font-weight="bold" fill="#000" text-anchor="end"  stroke="#000" stroke-width="0.15">0</text>
<line x1="401.80" y1="447.95" x2="405.80" y2="447.95" stroke="#444" stroke-width="1" />
<text x="399.80" y="450.95" font-family="Liberation Sans" font-size="8.5" font-weight="bold" fill="#000" text-anchor="end"  stroke="#000" stroke-width="0.15">100</text>
<line x1="401.80" y1="416.00" x2="405.80" y2="416.00" stroke="#444" stroke-width="1" />
<text x="399.80" y="419.00" font-family="Liberation Sans" font-size="8.5" font-weight="bold" fill="#000" text-anchor="end"  stroke="#000" stroke-width="0.15">200</text>
<line x1="401.80" y1="384.05" x2="405.80" y2="384.05" stroke="#444" stroke-width="1" />
<text x="399.80" y="387.05" font-family="Liberation Sans" font-size="8.5" font-weight="bold" fill="#000" text-anchor="end"  stroke="#000" stroke-width="0.15">300</text>
<line x1="401.80" y1="352.10" x2="405.80" y2="352.10" stroke="#444" stroke-width="1" />
<text x="399.80" y="355.10" font-family="Liberation Sans" font-size="8.5" font-weight="bold" fill="#000" text-anchor="end"  stroke="#000" stroke-width="0.15">400</text>
<line x1="401.80" y1="320.15" x2="405.80" y2="320.15" stroke="#444" stroke-width="1" />
<text x="399.80" y="323.15" font-family="Liberation Sans" font-size="8.5" font-weight="bold" fill="#000" text-anchor="end"  stroke="#000" stroke-width="0.15">500</text>
<line x1="401.80" y1="288.20" x2="405.80" y2="288.20" stroke="#444" stroke-width="1" />
<text x="399.80" y="291.20" font-family="Liberation Sans" font-size="8.5" font-weight="bold" fill="#000" text-anchor="end"  stroke="#000" stroke-width="0.15">600</text>
<line x1="401.80" y1="256.25" x2="405.80" y2="256.25" stroke="#444" stroke-width="1" />
<text x="399.80" y="259.25" font-family="Liberation Sans" font-size="8.5" font-weight="bold" fill="#000" text-anchor="end"  stroke="#000" stroke-width="0.15">700</text>
<line x1="405.80" y1="493.10" x2="405.80" y2="496.60" stroke="#444" stroke-width="1" />
<line x1="428.33" y1="493.10" x2="428.33" y2="496.60" stroke="#444" stroke-width="1" />
<line x1="450.87" y1="493.10" x2="450.87" y2="496.60" stroke="#444" stroke-width="1" />
<line x1="473.40" y1="493.10" x2="473.40" y2="496.60" stroke="#444" stroke-width="1" />
<line x1="495.93" y1="493.10" x2="495.93" y2="496.60" stroke="#444" stroke-width="1" />
<line x1="518.47" y1="493.10" x2="518.47" y2="496.60" stroke="#444" stroke-width="1" />
<line x1="541.00" y1="493.10" x2="541.00" y2="496.60" stroke="#444" stroke-width="1" />
<line x1="563.53" y1="493.10" x2="563.53" y2="496.60" stroke="#444" stroke-width="1" />
<line x1="586.07" y1="493.10" x2="586.07" y2="496.60" stroke="#444" stroke-width="1" />
<line x1="608.60" y1="493.10" x2="608.60" y2="496.60" stroke="#444" stroke-width="1" />
<line x1="631.13" y1="493.10" x2="631.13" y2="496.60" stroke="#444" stroke-width="1" />
<line x1="653.67" y1="493.10" x2="653.67" y2="496.60" stroke="#444" stroke-width="1" />
<line x1="676.20" y1="493.10" x2="676.20" y2="496.60" stroke="#444" stroke-width="1" />
<text x="405.80" y="506.00" font-family="Liberation Sans" font-size="8.5" font-weight="bold" fill="#000" text-anchor="middle"  stroke="#000" stroke-width="0.15">0</text>
<text x="450.87" y="506.00" font-family="Liberation Sans" font-size="8.5" font-weight="bold" fill="#000" text-anchor="middle"  stroke="#000" stroke-width="0.15">24</text>
<text x="495.93" y="506.00" font-family="Liberation Sans" font-size="8.5" font-weight="bold" fill="#000" text-anchor="middle"  stroke="#000" stroke-width="0.15">48</text>
<text x="541.00" y="506.00" font-family="Liberation Sans" font-size="8.5" font-weight="bold" fill="#000" text-anchor="middle"  stroke="#000" stroke-width="0.15">72</text>
<text x="586.07" y="506.00" font-family="Liberation Sans" font-size="8.5" font-weight="bold" fill="#000" text-anchor="middle"  stroke="#000" stroke-width="0.15">96</text>
<text x="631.13" y="506.00" font-family="Liberation Sans" font-size="8.5" font-weight="bold" fill="#000" text-anchor="middle"  stroke="#000" stroke-width="0.15">120</text>
<text x="676.20" y="506.00" font-family="Liberation Sans" font-size="8.5" font-weight="bold" fill="#000" text-anchor="middle"  stroke="#000" stroke-width="0.15">144</text>
<text x="541.40" y="522.40" font-family="Liberation Sans" font-size="11.4" font-weight="bold" fill="#000" text-anchor="middle"  stroke="#000" stroke-width="0.15">Duration (Hours)</text>
<rect x="408.90" y="266.20" width="40.10" height="12.50" fill="#fff" stroke="none" stroke-width="1" />
<text x="428.95" y="275.00" font-family="Liberation Sans" font-size="9.1" font-weight="bold" fill="#000" text-anchor="middle"  stroke="#000" stroke-width="0.15">Stage 1</text>
<rect x="499.30" y="266.20" width="40.40" height="12.50" fill="#fff" stroke="none" stroke-width="1" />
<text x="519.50" y="275.00" font-family="Liberation Sans" font-size="9.1" font-weight="bold" fill="#000" text-anchor="middle"  stroke="#000" stroke-width="0.15">Stage 2</text>
<rect x="588.90" y="266.20" width="39.20" height="12.50" fill="#fff" stroke="none" stroke-width="1" />
<text x="608.50" y="275.00" font-family="Liberation Sans" font-size="9.1" font-weight="bold" fill="#000" text-anchor="middle"  stroke="#000" stroke-width="0.15">Stage 3</text>
<line x1="405.80" y1="479.90" x2="669.54" y2="247.90" stroke="#b052c0" stroke-width="1.2" stroke-dasharray="3.5 3.5"/>
<line x1="405.80" y1="479.90" x2="676.20" y2="315.65" stroke="#ee2424" stroke-width="1.2" stroke-dasharray="3.5 3.5"/>
<line x1="405.80" y1="479.90" x2="676.20" y2="384.20" stroke="#3f5fb5" stroke-width="1.2" stroke-dasharray="3.5 3.5"/>
<line x1="405.80" y1="479.90" x2="676.20" y2="418.71" stroke="#000" stroke-width="1.2" stroke-dasharray="3.5 3.5"/>
<polyline points="405.80,479.90 407.21,477.79 408.62,475.98 410.03,474.39 411.43,472.15 412.84,470.60 414.25,467.72 415.66,466.84 417.07,464.56 418.48,464.87 419.88,464.79 421.29,466.15 422.70,466.40 424.11,464.07 425.52,462.55 426.93,461.93 428.33,459.75 429.74,458.19 431.15,457.90 432.56,456.47 433.97,456.04 435.38,454.49 436.78,453.83 438.19,454.14 439.60,452.91 441.01,450.94 442.42,448.51 443.83,446.12 445.23,443.55 446.64,441.97 448.05,441.14 449.46,440.42 450.87,439.36 452.28,439.30 453.68,439.25 455.09,438.66 456.50,438.12 457.91,437.90 459.32,435.84 460.73,434.82 462.13,433.49 463.54,433.03 464.95,432.03 466.36,431.71 467.77,430.91 469.18,430.00 470.58,429.30 471.99,429.49 473.40,428.06 474.81,427.45 476.22,425.67 477.62,425.81 479.03,423.90 480.44,423.16 481.85,421.73 483.26,420.76 484.67,419.06 486.08,417.49 487.48,416.17 488.89,413.63 490.30,411.68 491.71,411.57 493.12,410.42 494.53,409.29 495.93,407.57 497.34,406.10 498.75,404.18 500.16,402.72 501.57,401.05 502.98,398.81 504.38,397.82 505.79,396.71 507.20,395.76 508.61,393.22 510.02,390.72 511.43,388.81 512.83,387.06 514.24,386.33 515.65,385.25 517.06,383.57 518.47,383.09 519.88,381.68 521.28,380.16 522.69,379.70 524.10,378.56 525.51,376.53 526.92,374.22 528.33,372.42 529.73,371.55 531.14,369.80 532.55,367.18 533.96,366.48 535.37,363.98 536.78,362.22 538.18,360.00 539.59,358.59 541.00,356.45 542.41,354.91 543.82,353.59 545.23,352.60 546.63,351.85 548.04,349.64 549.45,348.05 550.86,346.18 552.27,344.53 553.68,343.88 555.08,343.12 556.49,342.34 557.90,342.31 559.31,341.60 560.72,341.07 562.12,340.37 563.53,339.19 564.94,338.80 566.35,337.29 567.76,336.49 569.17,335.94 570.58,334.71 571.98,334.18 573.39,332.23 574.80,330.82 576.21,329.79 577.62,328.52 579.03,327.98 580.43,327.19 581.84,324.36 583.25,323.24 584.66,320.81 586.07,318.62 587.48,317.67 588.88,317.79 590.29,316.27 591.70,315.35 593.11,314.83 594.52,312.44 595.93,311.95 597.33,309.43 598.74,309.19 600.15,308.74 601.56,308.70 602.97,308.87 604.38,306.53 605.78,303.77 607.19,301.96 608.60,300.41 610.01,299.49 611.42,297.26 612.83,296.66 614.23,295.07 615.64,292.66 617.05,291.53 618.46,288.97 619.87,287.97 621.28,286.36 622.68,285.05 624.09,284.30 625.50,282.83 626.91,281.63 628.32,280.24 629.73,279.12 631.13,277.59 632.54,276.40 633.95,273.80 635.36,272.23 636.77,269.53 638.18,269.19 639.58,268.06 640.99,267.45 642.40,266.05 643.81,265.61 645.22,263.67 646.62,262.99 648.03,262.84 649.44,261.51 650.85,260.47 652.26,259.82 653.67,258.58 655.08,258.08 656.48,255.82 657.89,255.02 659.30,253.68 660.71,253.31 662.12,251.81 663.53,250.93 664.93,249.41 666.34,249.43 667.75,248.66 669.16,248.56 670.57,248.45 671.98,248.14 673.38,247.20 674.79,247.60 676.20,247.30" fill="none" stroke="#b052c0" stroke-width="1.45" stroke-linejoin="round" />
<polyline points="405.80,479.90 407.21,477.19 408.62,475.41 410.03,472.78 411.43,471.41 412.84,470.18 414.25,467.81 415.66,466.84 417.07,465.99 418.48,465.06 419.88,465.18 421.29,465.37 422.70,464.99 424.11,464.62 425.52,464.66 426.93,463.53 428.33,463.30 429.59,463.05 430.84,463.89 432.09,464.96 433.34,466.91 434.59,469.15 435.84,470.77 437.10,474.79 438.35,479.27 439.60,482.94 441.01,479.79 442.42,476.62 443.83,472.57 445.23,468.77 446.64,466.98 448.05,465.14 449.46,463.84 450.87,460.79 452.12,463.79 453.37,464.85 454.62,466.63 455.87,466.36 457.13,465.97 458.38,464.21 459.63,460.68 460.88,456.86 462.13,453.04 463.54,452.44 464.95,452.31 466.36,450.98 467.77,451.03 469.02,450.17 470.27,449.26 471.52,449.01 472.77,451.29 474.03,455.07 475.28,457.90 476.53,458.18 477.78,459.04 479.03,459.94 480.44,456.85 481.85,453.33 483.26,450.45 484.67,446.20 485.92,445.12 487.17,442.89 488.42,440.51 489.67,441.36 490.93,441.82 492.18,443.27 494.06,436.90 495.93,440.80 497.34,439.17 498.75,437.60 500.16,436.23 501.57,434.15 502.98,434.34 504.38,434.32 505.79,432.89 507.20,433.08 508.61,431.17 510.02,429.58 511.43,428.11 512.83,426.28 514.24,425.68 515.65,424.83 517.06,423.47 518.47,422.88 519.88,421.24 521.28,420.11 522.69,418.97 524.10,418.33 525.51,416.72 526.92,415.03 528.33,413.52 529.73,411.74 531.14,409.83 532.55,407.88 533.96,406.00 535.37,405.04 536.78,403.32 538.18,401.13 539.59,399.81 541.00,398.58 542.41,398.14 543.82,397.86 545.23,398.30 546.63,398.95 548.04,396.84 549.45,396.83 550.86,394.93 552.27,394.40 553.68,392.76 555.08,391.60 556.49,389.32 557.90,387.39 559.31,387.19 560.72,386.24 562.12,385.70 563.53,386.16 564.94,384.52 566.35,383.81 567.76,383.83 569.17,383.66 570.58,383.09 571.98,383.89 573.39,384.27 574.80,383.91 576.21,382.04 577.62,381.16 579.03,379.95 580.43,377.92 581.84,376.59 583.25,374.21 584.66,372.96 586.07,370.89 587.48,369.54 588.88,369.03 590.29,367.80 591.70,367.23 593.11,366.66 594.52,365.49 595.93,364.28 597.33,363.59 598.74,363.08 600.15,360.98 601.56,360.67 602.97,358.62 604.38,358.26 605.78,357.76 607.19,357.20 608.60,357.07 610.01,355.79 611.42,354.60 612.83,352.79 614.23,351.73 615.64,350.59 617.05,348.59 618.46,347.33 619.87,346.60 621.28,345.17 622.68,343.26 624.09,342.31 625.50,341.40 626.91,340.23 628.32,339.80 629.73,338.54 631.13,338.35 632.54,335.58 633.95,334.32 635.36,331.04 636.77,329.89 638.18,328.23 639.58,328.13 640.99,327.61 642.40,326.79 643.81,325.92 645.22,324.96 646.62,324.17 648.03,322.61 649.44,322.02 650.85,320.16 652.26,318.32 653.67,317.59 655.08,315.84 656.48,314.61 657.89,314.52 659.30,313.23 660.71,312.19 662.12,311.89 663.53,311.91 664.93,311.22 666.34,309.67 667.75,309.45 669.16,308.57 670.57,307.99 671.98,308.75 673.38,310.11 674.79,309.75 676.20,310.88" fill="none" stroke="#ee2424" stroke-width="1.45" stroke-linejoin="round" />
<polyline points="405.80,479.90 407.21,478.68 408.62,476.20 410.03,475.19 411.43,473.20 412.84,473.15 414.25,471.42 415.66,471.00 417.07,470.26 418.48,470.55 419.88,470.43 421.29,471.07 422.70,470.54 424.11,470.62 425.52,471.44 426.93,471.08 428.33,471.49 430.21,468.87 431.46,470.91 432.71,471.51 433.97,473.35 435.38,477.93 436.78,482.83 438.19,487.66 439.60,491.45 441.01,487.92 442.42,484.15 443.83,481.30 445.23,477.15 446.49,474.65 447.74,473.40 448.99,470.42 450.40,473.41 451.81,475.34 453.21,476.68 454.62,479.49 455.87,477.21 457.13,474.77 458.38,472.40 459.63,469.13 460.88,466.57 462.13,462.82 463.39,462.51 464.64,461.34 465.89,461.82 467.14,461.93 468.39,462.27 469.64,462.45 470.90,461.97 472.15,462.07 473.40,461.37 474.65,465.10 475.90,469.66 477.16,473.63 478.41,471.74 479.66,470.90 480.91,468.38 482.16,464.92 483.41,461.15 484.67,456.93 485.92,454.15 487.17,453.26 488.42,451.39 489.67,453.30 490.93,455.70 492.18,458.48 494.06,451.13 495.93,455.12 497.34,455.02 498.75,453.94 500.16,453.88 501.57,453.23 502.98,452.96 504.38,452.20 505.79,451.83 507.20,451.10 508.61,450.55 510.02,449.44 511.43,448.12 512.83,446.72 514.24,446.06 515.65,445.67 517.06,444.93 518.47,443.98 519.88,443.17 521.28,442.29 522.69,442.40 524.10,441.37 525.51,440.63 526.92,440.57 528.33,439.21 529.73,438.70 531.14,437.37 532.55,436.61 533.96,435.28 535.37,434.71 536.78,433.62 538.18,432.21 539.59,430.49 541.00,429.41 542.41,430.07 543.82,430.62 545.23,430.74 546.63,431.25 548.04,430.89 549.45,429.53 550.86,427.97 552.27,427.13 553.68,426.25 555.08,426.23 556.49,426.01 557.90,424.43 559.31,425.02 560.72,425.66 562.12,426.51 563.53,427.08 564.94,426.71 566.35,426.44 567.76,425.16 569.17,424.77 570.58,424.80 571.98,425.47 573.39,425.20 574.80,426.03 576.21,424.75 577.62,424.47 579.03,423.70 580.43,423.56 581.84,422.61 583.25,421.65 584.66,420.83 586.07,421.03 587.48,419.93 588.88,419.56 590.29,418.89 591.70,418.33 593.11,418.55 594.52,419.14 595.93,418.62 597.33,418.32 598.74,416.76 600.15,415.97 601.56,416.06 602.97,414.30 604.38,413.71 605.78,413.71 607.19,412.51 608.60,411.39 610.01,410.73 611.42,410.40 612.83,410.63 614.23,410.45 615.64,408.55 617.05,407.81 618.46,407.64 619.87,406.39 621.28,405.12 622.68,403.43 624.09,403.03 625.50,402.29 626.91,400.05 628.32,398.54 629.73,397.03 631.13,396.46 632.54,394.51 633.95,392.42 635.36,391.43 636.77,389.76 638.18,389.54 639.58,389.99 640.99,388.95 642.40,388.93 643.81,388.98 645.22,388.38 646.62,388.33 648.03,388.06 649.44,386.70 650.85,385.24 652.26,383.49 653.67,380.99 655.08,380.35 656.48,379.55 657.89,379.55 659.30,378.25 660.71,377.90 662.12,376.27 663.53,375.42 664.93,375.66 666.34,374.93 667.75,373.93 669.16,373.37 670.57,371.96 671.98,372.98 673.38,373.67 674.79,373.26 676.20,374.15" fill="none" stroke="#3f5fb5" stroke-width="1.45" stroke-linejoin="round" />
<polyline points="405.80,479.90 407.21,479.22 408.62,478.00 410.03,476.99 411.43,476.46 412.84,475.45 414.25,474.62 415.66,474.00 417.07,473.66 418.48,473.76 419.88,473.54 421.29,473.50 422.70,472.93 424.11,472.87 425.52,472.50 426.93,472.62 428.33,472.02 429.74,471.95 431.15,471.76 432.56,471.76 433.97,470.89 435.38,471.56 436.78,470.87 438.19,471.23 439.60,471.05 441.01,470.54 442.42,469.87 443.83,470.37 445.23,470.39 446.64,469.09 448.05,468.77 449.46,468.84 450.87,468.24 452.28,468.52 453.68,468.68 455.09,468.27 456.50,467.37 457.91,467.29 459.32,467.51 460.73,466.92 462.13,466.73 463.54,467.07 464.95,466.18 466.36,465.73 467.77,465.05 469.18,465.44 470.58,464.81 471.99,464.52 473.40,463.32 474.81,462.91 476.22,462.27 477.62,462.02 479.03,461.56 480.44,462.18 481.85,461.56 483.26,460.64 484.67,460.64 486.08,460.02 487.48,458.44 488.89,457.42 490.30,456.99 491.71,456.10 493.12,455.00 494.53,454.43 495.93,453.73 497.34,453.84 498.75,453.56 500.16,453.24 501.57,454.08 502.98,453.39 504.38,452.16 505.79,451.60 507.20,451.83 508.61,451.17 510.02,449.92 511.43,449.10 512.83,449.07 514.24,449.54 515.65,449.85 517.06,449.42 518.47,449.27 519.88,449.65 521.28,449.09 522.69,448.97 524.10,448.74 525.51,449.38 526.92,449.63 528.33,451.12 529.73,451.81 531.14,450.42 532.55,449.99 533.96,448.70 535.37,448.68 536.78,447.44 538.18,445.95 539.59,445.11 541.00,443.97 542.25,445.45 543.50,445.38 544.76,446.26 546.26,445.42 547.76,444.55 549.26,444.36 550.76,443.92 552.27,442.53 553.68,441.69 555.08,441.13 556.49,441.66 557.90,440.78 559.31,440.79 560.72,440.36 562.12,440.59 563.53,441.13 564.94,439.96 566.35,439.63 567.76,439.98 569.17,439.59 570.58,440.11 571.98,440.29 573.39,440.55 574.80,440.37 576.21,439.54 577.62,439.50 579.03,439.58 580.43,438.64 581.84,438.40 583.25,438.12 584.66,436.86 586.07,436.83 587.48,436.57 588.88,436.64 590.29,436.05 591.70,436.27 593.11,435.80 594.52,436.77 595.93,436.43 597.33,436.57 598.74,436.45 600.15,436.62 601.56,435.54 602.97,436.13 604.38,435.76 605.78,435.45 607.19,435.52 608.60,435.16 610.01,434.99 611.42,435.06 612.83,435.55 614.23,435.17 615.64,434.52 617.05,433.79 618.46,433.56 619.87,432.31 621.28,432.75 622.68,431.64 624.09,432.01 625.50,431.63 626.91,431.65 628.32,431.22 629.73,430.22 631.13,430.56 632.54,429.24 633.95,429.70 635.36,429.28 636.77,428.00 638.18,428.76 639.58,428.40 640.99,428.57 642.40,428.90 643.81,428.50 645.22,427.89 646.62,427.32 648.03,425.76 649.44,426.14 650.85,426.17 652.26,425.13 653.67,425.15 655.08,425.84 656.48,425.19 657.89,425.78 659.30,425.01 660.71,425.12 662.12,424.83 663.53,424.28 664.93,424.39 666.34,425.06 667.75,425.34 669.16,425.68 670.57,425.48 671.98,425.40 673.38,423.96 674.79,424.31 676.20,423.67" fill="none" stroke="#000" stroke-width="1.45" stroke-linejoin="round" />
<rect x="416.10" y="289.90" width="132.80" height="60.80" fill="#fff" stroke="none" stroke-width="1" />
<text x="422.00" y="300.80" font-family="Liberation Sans" font-size="9.1" font-weight="bold" fill="#000" text-anchor="start" textLength="108.3" lengthAdjust="spacingAndGlyphs"  stroke="#000" stroke-width="0.15">Cumlative flux difference</text>
<line x1="418.00" y1="311.00" x2="436.00" y2="311.00" stroke="#b052c0" stroke-width="2.6" />
<text x="440.20" y="314.20" font-family="Liberation Sans" font-size="9.1" font-weight="bold" fill="#b052c0" text-anchor="start"  stroke="#b052c0" stroke-width="0.15">0% - 100%</text>
<text x="488.70" y="313.60" font-family="Liberation Serif" font-size="11.5" font-weight="bold" fill="#b052c0" text-anchor="start"  stroke="#b052c0" stroke-width="0.15">Φ</text>
<text x="495.30" y="318.00" font-family="Liberation Sans" font-size="6.5" font-weight="bold" fill="#b052c0" text-anchor="start"  stroke="#b052c0" stroke-width="0.15">λ</text>
<text x="503.00" y="314.20" font-family="Liberation Sans" font-size="9.1" font-weight="bold" fill="#b052c0" text-anchor="start"  stroke="#b052c0" stroke-width="0.15">= 5.17x</text>
<line x1="418.00" y1="321.70" x2="436.00" y2="321.70" stroke="#ee2424" stroke-width="2.6" />
<text x="440.20" y="324.90" font-family="Liberation Sans" font-size="9.1" font-weight="bold" fill="#ee2424" text-anchor="start"  stroke="#ee2424" stroke-width="0.15">0% - 75%</text>
<text x="488.70" y="324.30" font-family="Liberation Serif" font-size="11.5" font-weight="bold" fill="#ee2424" text-anchor="start"  stroke="#ee2424" stroke-width="0.15">Φ</text>
<text x="495.30" y="328.70" font-family="Liberation Sans" font-size="6.5" font-weight="bold" fill="#ee2424" text-anchor="start"  stroke="#ee2424" stroke-width="0.15">λ</text>
<text x="503.00" y="324.90" font-family="Liberation Sans" font-size="9.1" font-weight="bold" fill="#ee2424" text-anchor="start"  stroke="#ee2424" stroke-width="0.15">= 3.57x</text>
<line x1="418.00" y1="332.40" x2="436.00" y2="332.40" stroke="#3f5fb5" stroke-width="2.6" />
<text x="440.20" y="335.60" font-family="Liberation Sans" font-size="9.1" font-weight="bold" fill="#3f5fb5" text-anchor="start"  stroke="#3f5fb5" stroke-width="0.15">0% - 50%</text>
<text x="488.70" y="335.00" font-family="Liberation Serif" font-size="11.5" font-weight="bold" fill="#3f5fb5" text-anchor="start"  stroke="#3f5fb5" stroke-width="0.15">Φ</text>
<text x="495.30" y="339.40" font-family="Liberation Sans" font-size="6.5" font-weight="bold" fill="#3f5fb5" text-anchor="start"  stroke="#3f5fb5" stroke-width="0.15">λ</text>
<text x="503.00" y="335.60" font-family="Liberation Sans" font-size="9.1" font-weight="bold" fill="#3f5fb5" text-anchor="start"  stroke="#3f5fb5" stroke-width="0.15">= 2.08x</text>
<line x1="418.00" y1="343.10" x2="436.00" y2="343.10" stroke="#000" stroke-width="2.6" />
<text x="440.20" y="346.30" font-family="Liberation Sans" font-size="9.1" font-weight="bold" fill="#000" text-anchor="start"  stroke="#000" stroke-width="0.15">0% - 25%</text>
<text x="488.70" y="345.70" font-family="Liberation Serif" font-size="11.5" font-weight="bold" fill="#000" text-anchor="start"  stroke="#000" stroke-width="0.15">Φ</text>
<text x="495.30" y="350.10" font-family="Liberation Sans" font-size="6.5" font-weight="bold" fill="#000" text-anchor="start"  stroke="#000" stroke-width="0.15">λ</text>
<text x="503.00" y="346.30" font-family="Liberation Sans" font-size="9.1" font-weight="bold" fill="#000" text-anchor="start"  stroke="#000" stroke-width="0.15">= 1.33x</text>
<text transform="translate(363.20,451.80) rotate(-90)" font-family="Liberation Sans" font-size="13.8" font-weight="bold" fill="#000" textLength="148.8" lengthAdjust="spacingAndGlyphs">Cumulative Flux Difference</text>
<text transform="translate(376.80,434.80) rotate(-90)" font-family="Liberation Serif" font-size="13.5" font-weight="bold" fill="#000">(</text>
<text transform="translate(376.80,427.80) rotate(-90)" font-family="Liberation Serif" font-size="13.8" font-weight="bold" fill="#000" textLength="8.6" lengthAdjust="spacingAndGlyphs">Σ</text>
<text transform="translate(376.80,418.00) rotate(-90)" font-family="Liberation Serif" font-size="13.8" font-weight="bold" fill="#000" textLength="8.5" lengthAdjust="spacingAndGlyphs">Φ</text>
<text transform="translate(379.60,410.30) rotate(-90)" font-family="Liberation Serif" font-size="7.4" font-weight="bold" fill="#000" textLength="11.7" lengthAdjust="spacingAndGlyphs">Dry</text>
<text transform="translate(374.20,395.80) rotate(-90)" font-family="Liberation Serif" font-size="11" font-weight="bold" fill="#000" textLength="3" lengthAdjust="spacingAndGlyphs">-</text>
<text transform="translate(376.80,390.20) rotate(-90)" font-family="Liberation Serif" font-size="13.8" font-weight="bold" fill="#000" textLength="8.5" lengthAdjust="spacingAndGlyphs">Φ</text>
<text transform="translate(379.60,381.10) rotate(-90)" font-family="Liberation Serif" font-size="7.4" font-weight="bold" fill="#000" textLength="55" lengthAdjust="spacingAndGlyphs">Saturation degree</text>
<text transform="translate(376.80,326.30) rotate(-90)" font-family="Liberation Serif" font-size="13.5" font-weight="bold" fill="#000">)</text>
</svg></body></html>
